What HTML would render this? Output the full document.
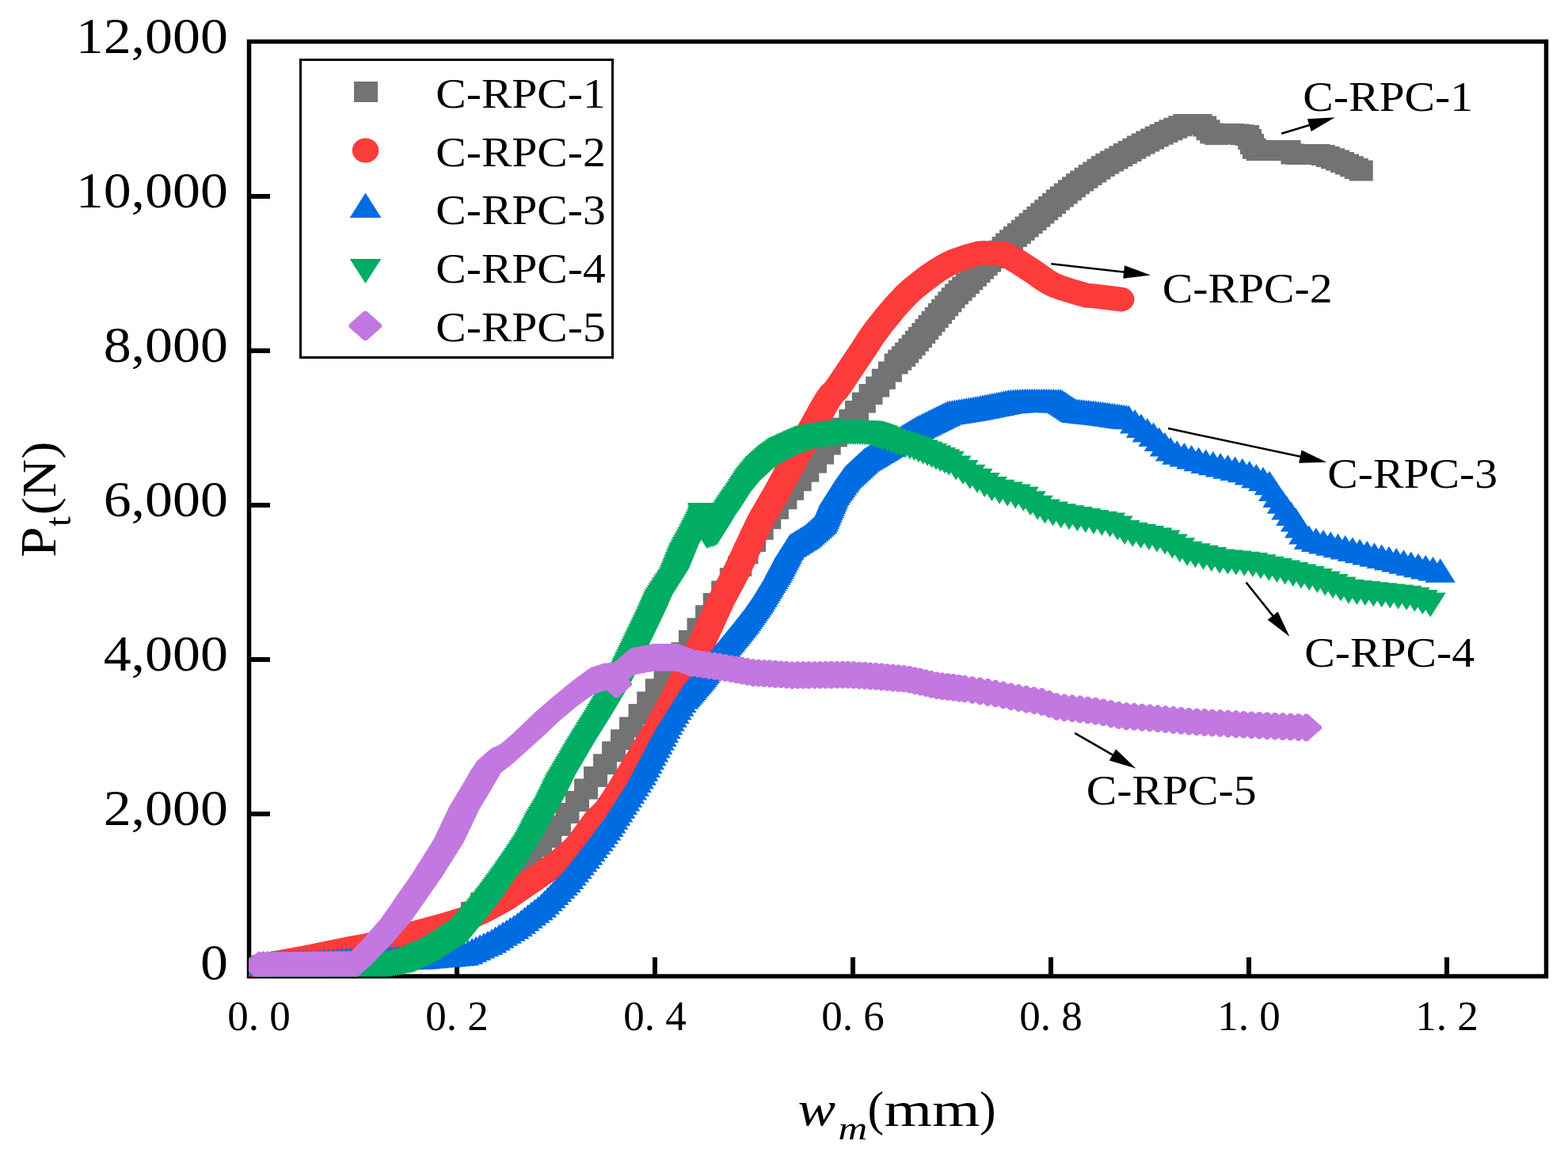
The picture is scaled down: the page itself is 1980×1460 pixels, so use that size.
<!DOCTYPE html><html><head><meta charset="utf-8"><style>html,body{margin:0;padding:0;background:#fff}svg{display:block}</style></head><body><svg xmlns="http://www.w3.org/2000/svg" width="1980" height="1460" viewBox="0 0 1980 1460">
<defs><clipPath id="pc"><rect x="314" y="52.5" width="1639" height="1181"/></clipPath></defs>
<rect width="1980" height="1460" fill="#fff"/>
<rect x="314.5" y="52.5" width="1638" height="1180.5" fill="none" stroke="#000" stroke-width="5.5"/>
<line x1="314" y1="1223.0" x2="341" y2="1223.0" stroke="#000" stroke-width="6"/>
<line x1="314" y1="1028.0" x2="341" y2="1028.0" stroke="#000" stroke-width="6"/>
<line x1="314" y1="833.0" x2="341" y2="833.0" stroke="#000" stroke-width="6"/>
<line x1="314" y1="638.0" x2="341" y2="638.0" stroke="#000" stroke-width="6"/>
<line x1="314" y1="443.0" x2="341" y2="443.0" stroke="#000" stroke-width="6"/>
<line x1="314" y1="248.0" x2="341" y2="248.0" stroke="#000" stroke-width="6"/>
<line x1="577.0" y1="1233" x2="577.0" y2="1209" stroke="#000" stroke-width="6"/>
<line x1="827.0" y1="1233" x2="827.0" y2="1209" stroke="#000" stroke-width="6"/>
<line x1="1077.0" y1="1233" x2="1077.0" y2="1209" stroke="#000" stroke-width="6"/>
<line x1="1327.0" y1="1233" x2="1327.0" y2="1209" stroke="#000" stroke-width="6"/>
<line x1="1577.0" y1="1233" x2="1577.0" y2="1209" stroke="#000" stroke-width="6"/>
<line x1="1827.0" y1="1233" x2="1827.0" y2="1209" stroke="#000" stroke-width="6"/>
<g clip-path="url(#pc)">
<path fill="#737373" d="M437.3 1205.0 312.0 1211.0 312.0 1237.0 342.0 1237.0 464.9 1231.0 464.9 1230.6 467.3 1230.6 467.3 1230.2 469.8 1230.2 469.8 1229.9 472.3 1229.9 472.3 1229.5 474.8 1229.5 474.8 1229.1 477.3 1229.1 477.3 1228.7 479.7 1228.7 479.7 1228.3 482.2 1228.3 482.2 1227.9 484.7 1227.9 484.7 1227.5 487.2 1227.5 487.2 1227.1 489.7 1227.1 489.7 1226.7 492.1 1226.7 492.1 1226.3 494.6 1226.3 494.6 1226.0 497.1 1226.0 497.1 1225.6 499.6 1225.6 499.6 1225.2 502.1 1225.2 502.1 1224.8 504.5 1224.8 504.5 1224.4 507.0 1224.4 507.0 1224.0 509.5 1224.0 509.5 1223.6 512.0 1223.6 512.0 1223.2 514.5 1223.2 514.5 1222.8 516.9 1222.8 516.9 1222.4 519.4 1222.4 519.4 1222.1 521.9 1222.1 521.9 1221.7 524.4 1221.7 524.4 1221.3 526.9 1221.3 526.9 1220.9 529.3 1220.9 529.3 1220.5 531.8 1220.5 531.8 1220.1 534.3 1220.1 534.3 1219.3 536.7 1219.3 536.7 1218.3 539.0 1218.3 539.0 1217.3 541.3 1217.3 541.3 1216.3 543.6 1216.3 543.6 1215.3 545.9 1215.3 545.9 1214.3 548.2 1214.3 548.2 1213.4 550.5 1213.4 550.5 1212.4 552.8 1212.4 552.8 1211.4 555.1 1211.4 555.1 1210.4 557.4 1210.4 557.4 1209.4 559.7 1209.4 559.7 1208.4 562.0 1208.4 562.0 1207.4 564.4 1207.4 564.4 1206.4 566.7 1206.4 566.7 1205.4 569.0 1205.4 569.0 1204.0 571.0 1204.0 571.0 1202.3 572.8 1202.3 572.8 1200.6 574.6 1200.6 574.6 1198.9 576.5 1198.9 576.5 1197.1 578.3 1197.1 578.3 1195.4 580.1 1195.4 580.1 1193.7 581.9 1193.7 581.9 1191.9 583.7 1191.9 583.7 1190.2 585.5 1190.2 585.5 1188.5 587.4 1188.5 587.4 1186.7 589.2 1186.7 589.2 1185.0 591.0 1185.0 591.0 1165.0 612.0 1165.0 612.0 1153.2 624.2 1153.2 624.2 1141.4 636.3 1141.4 636.3 1129.7 648.5 1129.7 648.5 1117.9 660.6 1117.9 660.6 1106.1 672.8 1106.1 672.8 1094.4 685.0 1094.4 685.0 1082.6 697.1 1082.6 697.1 1070.8 709.3 1070.8 709.3 1055.7 720.9 1055.7 720.9 1040.0 731.4 1040.0 731.4 1025.0 744.0 1025.0 744.0 1009.5 755.0 1009.5 755.0 994.0 767.0 994.0 767.0 978.2 779.0 978.2 779.0 962.3 790.0 962.3 790.0 947.3 801.0 947.3 801.0 931.5 812.0 931.5 812.0 914.9 823.5 914.9 823.5 899.6 834.2 899.6 834.2 883.3 844.8 883.3 844.8 868.0 855.5 868.0 855.5 852.5 866.5 852.5 866.5 837.2 877.4 837.2 877.4 821.9 887.0 821.9 887.0 806.6 897.5 806.6 897.5 790.2 908.1 790.2 908.1 774.9 917.7 774.9 917.7 759.6 928.2 759.6 928.2 743.3 938.8 743.3 938.8 727.9 949.3 727.9 949.3 712.3 957.5 712.3 957.5 697.0 967.1 697.0 967.1 681.7 976.7 681.7 976.7 668.2 986.3 668.2 986.3 655.8 995.9 655.8 995.9 643.3 1006.4 643.3 1006.4 631.8 1015.1 631.8 1015.1 620.3 1024.7 620.3 1024.7 608.8 1034.3 608.8 1034.3 597.5 1044.0 597.5 1044.0 586.5 1053.1 586.5 1053.1 574.5 1061.7 574.5 1061.7 564.4 1069.9 564.4 1069.9 553.5 1080.2 553.5 1080.2 543.0 1089.3 543.0 1089.3 532.0 1097.0 532.0 1097.0 521.6 1105.8 521.6 1105.8 511.0 1114.5 511.0 1114.5 501.5 1123.2 501.5 1123.2 491.8 1130.8 491.8 1130.8 482.5 1138.9 482.5 1138.9 472.4 1146.6 472.4 1146.6 467.8 1151.2 467.8 1151.2 463.2 1156.0 463.0 1156.0 458.5 1160.1 458.5 1160.1 453.6 1164.4 453.6 1164.4 448.8 1168.7 448.8 1168.7 443.8 1172.9 443.8 1172.9 438.9 1177.0 438.9 1177.0 433.9 1181.2 433.9 1181.2 429.0 1185.3 429.0 1185.3 424.0 1189.5 424.0 1189.5 419.0 1193.6 419.0 1193.6 414.1 1197.8 414.1 1197.8 409.1 1202.0 409.1 1202.0 404.1 1206.1 404.1 1206.1 399.2 1210.3 399.2 1210.3 394.2 1214.4 394.2 1214.4 389.3 1218.6 389.3 1218.6 384.6 1223.0 384.6 1223.0 380.0 1227.6 380.0 1227.6 375.4 1232.2 375.4 1232.2 370.9 1236.8 370.9 1236.8 366.3 1241.3 366.3 1241.3 361.7 1245.9 361.7 1245.9 357.1 1250.5 357.1 1250.5 352.6 1255.1 352.6 1255.1 348.0 1259.7 348.0 1259.7 343.4 1264.2 343.4 1264.2 338.9 1268.8 338.9 1268.8 334.3 1273.4 334.3 1273.4 329.7 1278.0 329.7 1278.0 325.1 1282.6 325.1 1282.6 320.6 1287.1 320.6 1287.1 316.3 1292.0 316.3 1292.0 312.1 1296.9 312.1 1296.9 307.9 1301.8 307.9 1301.8 303.7 1306.7 303.7 1306.7 299.4 1311.6 299.4 1311.6 295.2 1316.6 295.2 1316.6 291.0 1321.5 291.0 1321.5 286.8 1326.4 286.8 1326.4 282.5 1331.3 282.5 1331.3 278.3 1336.2 278.3 1336.2 274.1 1341.1 274.1 1341.1 269.9 1346.0 269.9 1346.0 265.6 1350.9 265.6 1350.9 261.4 1355.8 261.4 1355.8 257.4 1360.8 257.4 1360.8 253.3 1365.9 253.3 1365.9 249.3 1370.9 249.3 1370.9 245.3 1376.0 245.3 1376.0 241.5 1381.3 241.5 1381.3 237.8 1386.5 237.8 1386.5 234.0 1391.8 234.0 1391.8 230.4 1397.2 230.4 1397.2 226.7 1402.5 226.7 1402.5 223.0 1407.8 223.0 1407.8 219.7 1413.3 219.7 1413.3 216.5 1419.0 216.5 1419.0 213.4 1424.6 213.4 1424.6 210.2 1430.3 210.2 1430.3 207.0 1435.9 207.0 1435.9 203.9 1441.6 203.9 1441.6 200.7 1447.2 200.7 1447.2 197.5 1452.8 197.5 1452.8 194.5 1458.6 194.5 1458.6 191.5 1464.3 191.5 1464.3 188.5 1470.1 188.5 1470.1 185.6 1475.8 185.6 1475.8 182.8 1481.7 182.8 1481.7 180.1 1487.5 180.1 1487.5 177.3 1493.4 177.3 1493.4 174.7 1499.3 174.7 1499.3 172.3 1505.3 172.3 1505.3 170.0 1506.2 170.0 1506.2 172.4 1510.5 172.4 1510.5 177.2 1515.3 177.2 1515.3 181.4 1521.3 181.4 1521.3 182.9 1551.3 182.9 1551.3 182.6 1553.6 182.6 1553.6 183.2 1560.1 183.2 1560.1 183.9 1563.2 183.9 1563.2 189.0 1566.0 189.0 1566.0 194.9 1568.9 194.9 1568.9 200.7 1573.9 200.7 1573.9 203.0 1617.4 203.0 1617.4 207.4 1623.6 207.4 1623.6 208.0 1655.8 208.0 1655.8 209.0 1661.9 209.0 1661.9 211.1 1668.0 211.1 1668.0 213.3 1674.1 213.3 1674.1 215.5 1680.0 215.5 1680.0 218.0 1686.0 218.0 1686.0 220.6 1691.9 220.6 1691.9 223.2 1697.8 223.2 1697.8 225.9 1703.7 225.9 1703.7 228.5 1733.7 228.5 1733.7 202.5 1727.8 202.5 1727.8 199.9 1721.9 199.9 1721.9 197.2 1716.0 197.2 1716.0 194.6 1710.0 194.6 1710.0 192.0 1704.1 192.0 1704.1 189.5 1698.0 189.5 1698.0 187.3 1691.9 187.3 1691.9 185.1 1685.8 185.1 1685.8 183.0 1679.5 183.0 1679.5 182.0 1647.4 182.0 1647.4 181.4 1642.7 181.4 1642.7 177.0 1598.9 177.0 1598.9 174.7 1596.0 174.7 1596.0 168.9 1593.2 168.9 1593.2 163.0 1590.1 163.0 1590.1 157.9 1583.6 157.9 1583.6 157.2 1577.2 157.2 1577.2 156.5 1570.7 156.5 1570.7 156.1 1545.3 156.1 1545.3 155.4 1540.5 155.4 1540.5 151.2 1536.2 151.2 1536.2 146.4 1530.7 146.4 1530.7 144.0 1481.3 144.0 1481.3 146.3 1475.3 146.3 1475.3 148.7 1469.3 148.7 1469.3 151.3 1463.4 151.3 1463.4 154.1 1457.5 154.1 1457.5 156.8 1451.7 156.8 1451.7 159.6 1445.8 159.6 1445.8 162.5 1440.1 162.5 1440.1 165.5 1434.3 165.5 1434.3 168.5 1428.6 168.5 1428.6 171.5 1422.8 171.5 1422.8 174.7 1417.2 174.7 1417.2 177.9 1411.6 177.9 1411.6 181.0 1405.9 181.0 1405.9 184.2 1400.3 184.2 1400.3 187.4 1394.6 187.4 1394.6 190.5 1389.0 190.5 1389.0 193.7 1383.3 193.7 1383.3 197.0 1377.8 197.0 1377.8 200.7 1372.5 200.7 1372.5 204.4 1367.2 204.4 1367.2 208.0 1361.8 208.0 1361.8 211.8 1356.5 211.8 1356.5 215.5 1351.3 215.5 1351.3 219.3 1346.0 219.3 1346.0 223.3 1340.9 223.3 1340.9 227.3 1335.9 227.3 1335.9 231.4 1330.8 231.4 1330.8 235.4 1325.8 235.4 1325.8 239.6 1320.9 239.6 1320.9 243.9 1316.0 243.9 1316.0 248.1 1311.1 248.1 1311.1 252.3 1306.2 252.3 1306.2 256.5 1301.3 256.5 1301.3 260.8 1296.4 260.8 1296.4 265.0 1291.5 265.0 1291.5 269.2 1286.6 269.2 1286.6 273.4 1281.6 273.4 1281.6 277.7 1276.7 277.7 1276.7 281.9 1271.8 281.9 1271.8 286.1 1266.9 286.1 1266.9 290.3 1262.0 290.3 1262.0 294.6 1257.1 294.6 1257.1 299.1 1252.6 299.1 1252.6 303.7 1248.0 303.7 1248.0 308.3 1243.4 308.3 1243.4 312.9 1238.8 312.9 1238.8 317.4 1234.2 317.4 1234.2 322.0 1229.7 322.0 1229.7 326.6 1225.1 326.6 1225.1 331.1 1220.5 331.1 1220.5 335.7 1215.9 335.7 1215.9 340.3 1211.3 340.3 1211.3 344.9 1206.8 344.9 1206.8 349.4 1202.2 349.4 1202.2 354.0 1197.6 354.0 1197.6 358.6 1193.0 358.6 1193.0 363.3 1188.6 363.3 1188.6 368.2 1184.4 368.2 1184.4 373.2 1180.3 373.2 1180.3 378.1 1176.1 378.1 1176.1 383.1 1172.0 383.1 1172.0 388.1 1167.8 388.1 1167.8 393.0 1163.6 393.0 1163.6 398.0 1159.5 398.0 1159.5 403.0 1155.3 403.0 1155.3 407.9 1151.2 407.9 1151.2 412.9 1147.0 412.9 1147.0 417.8 1142.9 417.8 1142.9 422.8 1138.7 422.8 1138.7 427.6 1134.4 427.6 1134.4 432.5 1130.1 432.5 1130.1 437.0 1125.8 437.2 1125.8 441.8 1121.2 441.8 1121.2 446.4 1116.6 446.4 1116.6 456.5 1108.9 456.5 1108.9 465.8 1100.8 465.8 1100.8 475.5 1093.2 475.5 1093.2 485.0 1084.5 485.0 1084.5 495.6 1075.8 495.6 1075.8 506.0 1067.0 506.0 1067.0 517.0 1059.3 517.0 1059.3 527.5 1050.2 527.5 1050.2 538.4 1039.9 538.4 1039.9 548.5 1031.7 548.5 1031.7 560.5 1023.1 560.5 1023.1 571.5 1014.0 571.5 1014.0 582.8 1004.3 582.8 1004.3 594.3 994.7 594.3 994.7 605.8 985.1 605.8 985.1 617.3 976.4 617.3 976.4 629.8 965.9 629.8 965.9 642.2 956.3 642.2 956.3 655.7 946.7 655.7 946.7 671.0 937.1 671.0 937.1 686.3 927.5 686.3 927.5 701.9 919.3 701.9 919.3 717.3 908.8 717.3 908.8 733.6 898.2 733.6 898.2 748.9 887.7 748.9 887.7 764.2 878.1 764.2 878.1 780.6 867.5 780.6 867.5 795.9 857.0 795.9 857.0 811.2 847.4 811.2 847.4 826.5 836.5 826.5 836.5 842.0 825.5 842.0 825.5 857.3 814.8 857.3 814.8 873.6 804.2 873.6 804.2 888.9 793.5 888.9 793.5 905.5 782.0 905.5 782.0 921.3 771.0 921.3 771.0 936.3 760.0 936.3 760.0 952.2 749.0 952.2 749.0 968.0 737.0 968.0 737.0 983.5 725.0 983.5 725.0 999.0 714.0 999.0 714.0 1014.0 701.4 1014.0 701.4 1029.7 690.9 1029.7 690.9 1044.8 679.3 1044.8 679.3 1056.6 667.1 1056.6 667.1 1068.4 655.0 1068.4 655.0 1080.1 642.8 1080.1 642.8 1091.9 630.6 1091.9 630.6 1103.7 618.5 1103.7 618.5 1115.4 606.3 1115.4 606.3 1127.2 594.2 1127.2 594.2 1139.0 582.0 1139.0 582.0 1159.0 561.0 1159.0 561.0 1160.7 559.2 1160.7 559.2 1162.5 557.4 1162.5 557.4 1164.2 555.5 1164.2 555.5 1165.9 553.7 1165.9 553.7 1167.7 551.9 1167.7 551.9 1169.4 550.1 1169.4 550.1 1171.1 548.3 1171.1 548.3 1172.9 546.5 1172.9 546.5 1174.6 544.6 1174.6 544.6 1176.3 542.8 1176.3 542.8 1178.0 541.0 1178.0 541.0 1179.4 539.0 1179.4 539.0 1180.4 536.7 1180.4 536.7 1181.4 534.4 1181.4 534.4 1182.4 532.0 1182.4 532.0 1183.4 529.7 1183.4 529.7 1184.4 527.4 1184.4 527.4 1185.4 525.1 1185.4 525.1 1186.4 522.8 1186.4 522.8 1187.4 520.5 1187.4 520.5 1188.3 518.2 1188.3 518.2 1189.3 515.9 1189.3 515.9 1190.3 513.6 1190.3 513.6 1191.3 511.3 1191.3 511.3 1192.3 509.0 1192.3 509.0 1193.3 506.7 1193.3 506.7 1194.1 501.8 1194.5 501.8 1194.9 499.3 1194.9 499.3 1195.3 496.9 1195.3 496.9 1195.7 494.4 1195.7 494.4 1196.1 491.9 1196.1 491.9 1196.4 489.4 1196.4 489.4 1196.8 486.9 1196.8 486.9 1197.2 484.5 1197.2 484.5 1197.6 482.0 1197.6 482.0 1198.0 479.5 1198.0 479.5 1198.4 477.0 1198.4 477.0 1198.8 474.5 1198.8 474.5 1199.2 472.1 1199.2 472.1 1199.6 469.6 1199.6 469.6 1200.0 467.1 1200.0 467.1 1200.3 464.6 1200.3 464.6 1200.7 462.1 1200.7 462.1 1201.1 459.7 1201.1 459.7 1201.5 457.2 1201.5 457.2 1201.9 454.7 1201.9 454.7 1202.3 452.2 1202.3 452.2 1202.7 449.7 1202.7 449.7 1203.1 447.3 1203.1 447.3 1203.5 444.8 1203.5 444.8 1203.9 442.3 1203.9 442.3 1204.2 439.8 1204.2 439.8 1204.6 437.3 1204.6Z"/>
<path fill="#fc3b3b" d="M557.7 1153.3 479.8 1174.2 457.2 1179.8 441.0 1182.6 380.9 1194.7 323.2 1205.2 319.5 1206.3 316.2 1208.2 313.4 1210.6 311.3 1213.6 310.0 1216.9 309.6 1220.3 310.0 1223.7 311.3 1227.0 313.4 1230.0 316.2 1232.4 319.5 1234.3 323.2 1235.4 327.1 1235.8 331.0 1235.4 392.9 1224.0 447.2 1212.9 469.4 1208.9 495.6 1202.3 559.3 1185.1 588.9 1176.4 603.0 1171.2 616.7 1165.1 632.6 1156.8 648.9 1147.5 710.8 1105.1 727.2 1092.0 741.0 1079.5 748.8 1070.4 765.8 1046.6 768.9 1043.1 779.0 1033.3 788.2 1020.7 797.9 1005.5 829.1 954.3 852.0 915.6 864.8 891.8 896.1 830.4 905.2 811.4 926.0 765.9 946.0 728.0 974.8 666.7 997.7 626.5 1042.7 543.5 1058.7 515.2 1064.0 507.2 1069.0 502.5 1074.7 494.8 1106.3 447.4 1114.6 434.4 1126.0 418.9 1142.8 398.5 1156.6 383.4 1165.8 374.9 1177.3 365.9 1193.6 354.0 1206.9 346.3 1213.9 343.1 1221.8 340.2 1234.3 336.4 1241.5 334.8 1251.7 336.0 1261.3 335.5 1263.1 336.2 1276.2 343.7 1295.8 356.4 1309.1 366.0 1320.2 372.4 1325.7 374.9 1336.9 379.0 1355.0 384.6 1369.4 388.6 1378.1 389.1 1415.0 393.6 1418.9 393.2 1422.6 392.1 1425.9 390.2 1428.7 387.8 1430.8 384.8 1432.1 381.5 1432.5 378.1 1432.1 374.7 1430.8 371.4 1428.7 368.4 1425.9 366.0 1422.6 364.1 1418.9 363.0 1383.2 358.6 1375.4 358.1 1355.2 352.1 1344.5 348.5 1337.3 345.5 1331.5 342.3 1313.8 329.8 1293.6 316.8 1282.5 310.4 1277.1 307.8 1270.5 305.7 1260.7 304.6 1253.1 305.1 1242.8 303.9 1232.9 304.8 1214.8 309.7 1197.8 315.7 1187.0 320.9 1173.4 328.9 1158.7 339.3 1139.9 354.2 1130.6 362.9 1118.4 376.1 1104.9 392.1 1093.7 406.2 1084.5 418.9 1076.3 431.9 1044.8 479.1 1042.2 482.8 1037.3 487.3 1035.4 489.6 1029.9 497.5 1025.3 505.2 1004.9 541.9 967.1 611.8 948.3 644.3 942.6 654.8 913.7 716.4 895.0 751.7 866.5 813.4 828.5 887.8 815.6 911.0 797.3 941.7 764.5 995.4 758.2 1005.1 752.3 1013.5 739.0 1026.7 718.5 1055.0 713.2 1060.7 707.7 1065.8 696.7 1075.0 685.4 1083.7 628.9 1122.3 617.5 1128.9 602.2 1137.0 592.0 1141.7 581.5 1145.9Z"/>
<path fill="#006ce2" d="M635.1 1164.1 631.8 1169.3 630.4 1167.0 627.1 1172.2 625.7 1170.0 622.4 1175.1 621.0 1172.9 617.8 1178.0 616.1 1175.4 612.8 1180.5 611.1 1177.7 607.9 1182.9 606.1 1180.1 602.9 1185.2 601.1 1182.4 597.9 1187.6 596.1 1184.8 592.9 1190.0 591.1 1187.2 588.0 1192.2 586.0 1189.0 583.1 1193.6 580.5 1189.5 577.6 1194.1 575.0 1189.9 572.1 1194.5 569.5 1190.4 566.6 1195.0 564.0 1190.9 561.1 1195.5 558.5 1191.3 555.6 1195.9 553.0 1191.8 550.1 1196.4 547.5 1192.3 544.6 1196.9 542.0 1192.7 539.1 1197.3 536.5 1193.2 533.6 1197.8 531.0 1193.7 528.2 1198.1 525.5 1193.9 522.7 1198.3 520.0 1194.0 517.2 1198.5 514.5 1194.2 511.7 1198.6 509.0 1194.3 506.1 1198.8 503.4 1194.5 500.6 1198.9 497.9 1194.6 495.1 1199.1 492.4 1194.8 489.6 1199.2 486.9 1194.9 484.1 1199.4 481.4 1195.1 478.6 1199.5 475.9 1195.2 473.0 1199.7 470.3 1195.4 467.5 1199.8 464.8 1195.5 462.0 1200.0 459.3 1195.7 456.5 1200.2 453.8 1195.8 451.0 1200.3 448.3 1196.1 445.4 1200.6 442.8 1196.5 439.9 1201.0 437.3 1196.8 434.4 1201.4 431.8 1197.2 428.9 1201.8 426.3 1197.6 423.4 1202.2 420.7 1198.0 417.9 1202.6 415.2 1198.4 412.4 1202.9 409.7 1198.8 406.9 1203.3 404.2 1199.2 401.4 1203.7 398.7 1199.5 395.9 1203.9 393.2 1199.6 390.4 1204.1 387.7 1199.7 384.9 1204.2 382.2 1199.9 379.4 1204.3 376.7 1200.0 373.9 1204.4 371.1 1200.1 368.3 1204.6 365.6 1200.3 362.8 1204.7 360.1 1200.4 357.3 1204.8 354.6 1200.5 351.8 1205.0 349.1 1200.6 346.3 1205.1 343.6 1200.8 340.8 1205.2 338.0 1200.9 335.2 1205.3 332.5 1201.0 329.7 1205.5 327.0 1201.2 307.8 1231.7 346.2 1231.7 417.9 1230.0 417.7 1229.7 428.9 1229.3 428.7 1228.9 434.4 1228.9 434.2 1228.5 439.9 1228.5 439.7 1228.1 445.5 1228.1 445.2 1227.7 451.0 1227.7 450.7 1227.3 456.5 1227.3 456.2 1227.0 462.0 1227.0 461.7 1226.6 550.2 1224.2 549.9 1223.7 555.7 1223.7 555.4 1223.2 561.2 1223.2 560.9 1222.8 566.7 1222.8 566.4 1222.3 572.2 1222.3 571.9 1221.8 583.2 1221.4 582.9 1220.9 588.7 1220.9 588.4 1220.4 594.2 1220.4 593.9 1220.0 599.7 1220.0 599.4 1219.5 605.2 1219.5 604.1 1217.7 610.3 1217.7 608.9 1215.3 615.3 1215.3 613.8 1212.9 620.3 1212.9 618.8 1210.6 625.3 1210.6 623.8 1208.2 630.3 1208.2 628.8 1205.9 635.3 1205.9 633.7 1203.4 640.2 1203.4 638.4 1200.5 644.9 1200.5 643.1 1197.5 649.6 1197.5 647.7 1194.6 654.3 1194.6 652.4 1191.7 659.0 1191.7 657.1 1188.8 663.6 1188.8 661.8 1185.9 668.3 1185.9 666.4 1182.8 672.9 1182.8 670.7 1179.4 677.2 1179.4 675.0 1175.9 681.5 1175.9 679.4 1172.5 685.9 1172.5 683.7 1169.1 690.2 1169.1 688.0 1165.7 694.5 1165.7 692.4 1162.2 698.8 1162.2 696.6 1158.7 703.1 1158.7 700.6 1154.8 707.0 1154.8 704.5 1150.8 710.8 1150.8 708.3 1146.9 714.7 1146.9 712.2 1143.0 718.5 1143.0 716.1 1139.0 722.4 1139.0 719.9 1135.1 726.3 1135.1 723.8 1131.1 730.1 1131.1 727.6 1127.2 734.0 1127.2 731.3 1122.9 737.4 1122.9 734.7 1118.5 740.9 1118.5 738.1 1114.2 744.3 1114.2 741.6 1109.9 747.7 1109.9 745.0 1105.6 751.1 1105.6 748.4 1101.2 754.6 1101.2 751.8 1096.9 757.9 1096.9 755.2 1092.5 761.3 1092.5 758.5 1088.1 764.6 1088.1 761.8 1083.7 767.9 1083.7 765.1 1079.3 771.2 1079.3 768.5 1074.9 774.6 1074.9 771.8 1070.5 777.9 1070.5 775.1 1066.1 781.2 1066.1 778.4 1061.6 784.5 1061.6 781.7 1057.1 787.6 1057.1 784.7 1052.4 790.6 1052.4 787.7 1047.8 793.5 1047.8 790.6 1043.1 796.5 1043.1 793.6 1038.4 799.4 1038.4 796.5 1033.8 802.4 1033.8 799.5 1029.1 805.3 1029.1 802.4 1024.4 808.3 1024.4 805.4 1019.8 811.3 1019.8 808.3 1015.1 814.2 1015.1 811.3 1010.4 817.2 1010.4 814.2 1005.8 820.1 1005.8 817.1 1001.1 823.0 1001.1 820.0 996.4 825.9 996.4 823.0 991.7 828.8 991.7 825.8 986.8 831.4 986.8 828.4 982.0 834.0 982.0 830.9 977.1 836.6 977.1 833.5 972.2 839.1 972.2 836.1 967.3 841.7 967.3 838.6 962.4 844.3 962.4 841.2 957.6 846.9 957.6 843.8 952.7 849.4 952.7 846.4 947.8 852.0 947.8 848.9 942.9 854.6 942.9 851.5 938.0 857.1 938.0 854.1 933.1 859.7 933.1 856.6 928.3 862.3 928.3 859.2 923.4 864.9 923.4 861.9 918.7 867.8 918.7 864.8 914.0 870.7 914.0 867.8 909.3 873.7 909.3 870.7 904.7 876.6 904.7 873.7 900.0 879.6 900.0 876.6 895.4 882.5 895.4 881.1 893.1 884.4 893.1 883.0 890.8 886.4 890.8 885.0 888.5 888.3 888.5 886.9 886.2 890.3 886.2 888.9 883.9 892.2 883.9 890.8 881.6 894.2 881.6 892.8 879.3 896.1 879.3 894.7 877.1 898.1 877.1 896.7 874.8 900.0 874.8 898.6 872.5 902.0 872.5 900.5 870.1 903.8 870.1 902.3 867.7 905.6 867.7 904.1 865.3 907.4 865.3 905.9 862.9 909.2 862.9 907.6 860.4 910.9 860.4 909.4 858.0 912.7 858.0 911.2 855.6 914.5 855.6 913.0 853.2 916.3 853.2 914.8 850.7 918.1 850.7 916.6 848.4 920.0 848.4 918.5 846.1 921.9 846.1 920.4 843.8 923.8 843.8 922.4 841.5 925.7 841.5 924.3 839.2 927.6 839.2 926.2 836.9 929.6 836.9 928.1 834.6 931.5 834.6 930.0 832.2 933.4 832.2 931.9 829.9 935.3 829.9 933.8 827.6 937.2 827.6 935.7 825.3 939.1 825.3 937.6 822.9 941.0 822.9 939.5 820.6 942.9 820.6 941.4 818.3 944.8 818.3 943.3 815.9 946.7 815.9 945.2 813.6 948.6 813.6 947.1 811.3 950.4 811.3 949.0 808.9 952.3 808.9 950.8 806.5 954.1 806.5 952.7 804.2 956.0 804.2 954.5 801.8 957.9 801.8 956.4 799.4 959.7 799.4 958.2 797.0 961.4 797.0 959.9 794.5 963.1 794.5 961.6 792.0 964.8 792.0 963.3 789.6 966.5 789.6 965.0 787.1 968.2 787.1 966.7 784.6 970.0 784.6 968.4 782.1 971.7 782.1 970.1 779.7 973.4 779.7 971.8 777.2 975.1 777.2 973.5 774.7 976.8 774.7 975.2 772.2 978.4 772.2 976.7 769.6 979.9 769.6 978.3 767.0 981.5 767.0 979.8 764.5 983.0 764.5 981.4 761.9 984.6 761.9 983.0 759.3 986.1 759.3 984.5 756.7 987.7 756.7 986.1 754.2 989.3 754.2 987.6 751.6 990.8 751.6 989.2 749.0 992.4 749.0 990.8 746.5 993.9 746.5 992.3 743.9 995.5 743.9 993.9 741.3 997.0 741.3 995.4 738.8 998.6 738.8 997.0 736.2 1000.2 736.2 998.5 733.6 1001.7 733.6 1000.0 731.0 1003.1 731.0 1001.4 728.3 1004.5 728.3 1002.8 725.6 1005.8 725.6 1004.2 722.9 1007.2 722.9 1005.5 720.3 1008.6 720.3 1006.9 717.6 1010.0 717.6 1008.3 714.9 1011.4 714.9 1009.7 712.3 1012.7 712.3 1011.0 709.6 1014.1 709.6 1012.4 706.9 1015.5 706.9 1014.0 704.5 1017.2 704.5 1016.2 703.0 1019.7 703.0 1018.7 701.4 1022.3 701.4 1021.3 699.8 1024.8 699.8 1023.8 698.2 1027.4 698.2 1026.4 696.6 1029.9 696.6 1028.9 695.0 1032.5 695.0 1031.5 693.4 1035.0 693.4 1034.0 691.8 1037.5 691.8 1036.3 689.8 1039.8 689.8 1038.5 687.8 1042.0 687.8 1040.7 685.8 1044.2 685.8 1043.0 683.8 1046.5 683.8 1045.2 681.8 1048.7 681.8 1047.5 679.8 1051.0 679.8 1049.7 677.8 1053.2 677.8 1051.9 675.7 1055.4 675.7 1054.2 673.7 1057.7 673.7 1056.0 671.1 1059.0 671.1 1057.3 668.3 1060.2 668.3 1058.4 665.6 1061.3 665.6 1059.6 662.8 1062.5 662.8 1060.8 660.0 1063.7 660.0 1061.9 657.3 1064.8 657.3 1063.1 654.5 1066.0 654.5 1064.3 651.7 1067.2 651.7 1065.4 649.0 1068.3 649.0 1066.6 646.2 1069.5 646.2 1067.8 643.4 1070.7 643.4 1068.9 640.6 1071.9 640.6 1070.2 638.0 1073.3 638.0 1071.8 635.6 1075.0 635.6 1073.5 633.1 1076.8 633.1 1075.2 630.7 1078.5 630.7 1077.0 628.2 1080.2 628.2 1078.7 625.8 1082.0 625.8 1080.4 623.3 1083.7 623.3 1082.1 620.9 1085.4 620.9 1083.9 618.4 1087.2 618.4 1085.8 616.3 1089.3 616.3 1088.0 614.2 1091.5 614.2 1090.2 612.2 1093.7 612.2 1092.4 610.2 1095.9 610.2 1094.6 608.1 1098.1 608.1 1096.8 606.1 1100.3 606.1 1099.0 604.0 1102.5 604.0 1101.2 602.0 1104.7 602.0 1103.4 599.9 1106.9 599.9 1105.6 597.9 1109.1 597.9 1107.8 595.8 1111.3 595.8 1110.3 594.3 1113.9 594.3 1112.9 592.8 1116.4 592.8 1115.5 591.2 1119.0 591.2 1118.1 589.7 1121.6 589.7 1120.7 588.2 1124.2 588.2 1123.2 586.6 1126.8 586.6 1125.8 585.1 1129.4 585.1 1128.4 583.6 1132.0 583.6 1131.0 582.0 1134.5 582.0 1133.5 580.5 1137.1 580.5 1136.1 578.8 1139.6 578.8 1138.6 577.2 1142.2 577.2 1141.1 575.6 1144.7 575.6 1143.7 574.0 1147.2 574.0 1146.2 572.4 1149.8 572.4 1148.7 570.8 1152.3 570.8 1151.3 569.2 1154.8 569.2 1153.9 567.6 1157.4 567.6 1156.4 566.1 1160.0 566.1 1159.0 564.5 1162.5 564.5 1161.6 562.9 1165.1 562.9 1164.1 561.4 1167.7 561.4 1166.7 559.8 1170.2 559.8 1169.3 558.3 1172.8 558.3 1171.8 556.7 1175.4 556.7 1174.5 555.3 1178.0 555.3 1177.2 553.9 1180.7 553.9 1179.9 552.6 1183.4 552.6 1182.6 551.3 1186.1 551.3 1185.2 549.9 1188.8 549.9 1187.9 548.6 1191.5 548.6 1190.6 547.3 1194.2 547.3 1193.3 545.9 1196.9 545.9 1196.0 544.6 1199.6 544.6 1198.7 543.3 1202.2 543.3 1201.4 541.9 1204.9 541.9 1204.1 540.6 1207.6 540.6 1206.8 539.3 1210.3 539.3 1209.5 537.9 1213.0 537.9 1212.2 536.6 1215.7 536.6 1215.4 536.1 1218.7 536.1 1218.4 535.6 1221.6 535.6 1221.3 535.1 1224.6 535.1 1224.3 534.7 1227.6 534.7 1227.3 534.2 1230.5 534.2 1230.2 533.7 1233.5 533.7 1233.2 533.2 1236.5 533.2 1236.1 532.7 1239.4 532.7 1239.1 532.2 1242.4 532.2 1242.1 531.7 1245.3 531.7 1245.0 531.2 1248.3 531.2 1248.0 530.7 1251.3 530.7 1250.9 530.2 1254.2 530.2 1253.9 529.6 1257.2 529.6 1256.8 529.0 1260.1 529.0 1259.8 528.4 1263.1 528.4 1262.7 527.8 1266.0 527.8 1265.6 527.2 1269.0 527.2 1268.6 526.6 1271.9 526.6 1271.5 526.0 1274.9 526.0 1274.5 525.5 1277.8 525.5 1277.4 524.9 1280.7 524.9 1280.4 524.3 1283.7 524.3 1283.3 523.7 1286.6 523.7 1286.3 523.1 1289.6 523.1 1289.2 522.5 1307.4 521.3 1323.6 521.7 1322.8 523.1 1326.3 523.1 1325.3 524.7 1328.8 524.7 1327.8 526.4 1331.3 526.4 1330.3 528.1 1333.8 528.1 1332.8 529.7 1336.3 529.7 1335.3 531.4 1338.8 531.4 1337.8 533.1 1341.1 533.1 1340.5 533.9 1343.7 533.9 1343.5 534.3 1346.7 534.3 1346.5 534.6 1349.7 534.6 1349.5 534.9 1352.7 534.9 1352.5 535.2 1361.7 535.9 1361.5 536.2 1364.6 536.2 1364.4 536.5 1367.6 536.5 1367.4 536.8 1370.6 536.8 1370.4 537.2 1373.6 537.2 1373.4 537.6 1376.6 537.6 1376.4 538.0 1379.6 538.0 1379.3 538.4 1382.6 538.4 1382.3 538.8 1385.6 538.8 1385.3 539.3 1388.5 539.3 1388.3 539.7 1391.5 539.7 1391.2 540.1 1394.5 540.1 1394.2 540.5 1400.4 541.0 1400.2 541.4 1403.4 541.4 1403.1 541.8 1406.4 541.8 1406.1 542.2 1417.3 542.2 1413.9 547.6 1425.2 547.6 1421.8 553.0 1433.0 553.0 1429.6 558.4 1440.8 558.4 1437.4 563.9 1448.5 563.9 1444.5 570.1 1455.6 570.1 1451.7 576.4 1462.8 576.4 1458.8 582.6 1469.8 582.6 1467.1 586.8 1478.0 586.8 1476.2 589.6 1487.0 589.6 1485.3 592.4 1496.1 592.4 1494.4 595.3 1505.2 595.3 1503.5 598.0 1514.1 598.0 1512.7 600.2 1523.3 600.2 1521.9 602.5 1532.6 602.5 1531.2 604.7 1541.8 604.7 1540.4 606.9 1551.1 606.9 1549.6 609.2 1560.6 609.2 1558.5 612.4 1569.7 612.4 1567.2 616.4 1578.3 616.4 1575.8 620.3 1586.7 620.3 1583.7 625.2 1594.0 625.2 1589.0 633.1 1599.3 633.1 1594.4 640.9 1604.7 640.9 1599.7 648.8 1610.2 648.8 1605.3 656.4 1615.8 656.4 1611.1 664.0 1621.6 664.0 1616.8 671.6 1627.0 671.6 1622.1 679.5 1632.2 679.5 1627.1 687.6 1637.8 687.6 1633.7 694.1 1644.5 694.1 1642.7 697.0 1653.4 697.0 1651.9 699.4 1662.6 699.4 1661.1 701.8 1671.8 701.8 1670.3 704.2 1681.0 704.2 1679.5 706.5 1690.1 706.5 1688.7 708.9 1699.3 708.9 1697.9 711.2 1708.6 711.2 1707.1 713.4 1717.8 713.4 1716.3 715.7 1727.0 715.7 1725.6 718.0 1736.2 718.0 1734.8 720.3 1745.5 720.3 1744.0 722.6 1754.6 722.6 1753.3 724.8 1763.9 724.8 1762.5 727.0 1773.1 727.0 1771.8 729.2 1782.4 729.2 1781.0 731.4 1791.6 731.4 1790.3 733.6 1800.9 733.6 1799.5 735.8 1837.9 735.8 1818.7 705.2 1814.8 711.5 1809.5 703.1 1805.5 709.3 1800.2 700.9 1796.3 707.1 1791.0 698.7 1787.0 704.9 1781.7 696.5 1777.8 702.7 1772.5 694.3 1768.5 700.5 1763.2 692.1 1759.3 698.3 1754.0 689.8 1750.1 696.0 1744.8 687.5 1740.9 693.7 1735.5 685.2 1731.7 691.4 1726.3 682.9 1722.4 689.1 1717.1 680.7 1713.2 686.8 1707.9 678.4 1704.0 684.5 1698.7 676.0 1694.8 682.2 1689.5 673.7 1685.6 679.8 1680.3 671.3 1676.4 677.4 1671.1 668.9 1667.2 675.0 1661.9 666.5 1658.3 672.1 1652.9 663.6 1651.7 665.5 1636.0 641.1 1635.5 641.9 1630.3 633.5 1629.8 634.3 1624.5 625.9 1624.2 626.5 1618.9 618.3 1618.7 618.6 1602.9 594.7 1600.5 598.5 1595.0 589.8 1591.9 594.7 1586.4 585.9 1583.3 590.8 1577.7 581.9 1574.3 587.4 1568.8 578.7 1564.9 584.9 1559.6 576.4 1555.7 582.6 1550.4 574.2 1546.5 580.4 1541.1 572.0 1537.2 578.2 1531.9 569.7 1528.0 575.9 1522.7 567.5 1519.0 573.3 1513.6 564.8 1509.9 570.6 1504.5 561.9 1500.8 567.8 1495.4 559.1 1491.7 564.9 1486.3 556.3 1483.5 560.8 1478.0 552.1 1476.4 554.7 1470.9 545.9 1469.3 548.4 1463.7 539.6 1462.1 542.2 1456.6 533.4 1454.4 536.8 1448.8 527.9 1446.6 531.4 1441.0 522.5 1438.7 526.0 1433.1 517.1 1430.9 520.7 1425.3 511.8 1423.9 513.9 1422.3 511.3 1421.0 513.5 1419.4 510.9 1418.0 513.0 1416.4 510.5 1415.0 512.6 1413.4 510.0 1412.1 512.2 1410.4 509.6 1409.1 511.8 1407.5 509.2 1406.1 511.3 1404.5 508.8 1403.1 510.9 1401.5 508.3 1400.2 510.5 1398.5 507.9 1397.2 510.1 1395.6 507.5 1394.2 509.6 1392.6 507.1 1391.2 509.2 1389.6 506.7 1388.2 508.9 1386.6 506.3 1385.2 508.6 1383.6 506.0 1382.2 508.2 1380.7 505.7 1379.3 507.9 1377.7 505.4 1376.3 507.6 1374.7 505.1 1373.3 507.3 1371.7 504.7 1370.3 506.9 1368.7 504.4 1367.3 506.6 1365.7 504.1 1364.3 506.3 1362.7 503.8 1361.3 506.0 1359.7 503.4 1358.6 505.2 1357.0 502.6 1356.2 503.7 1354.5 500.9 1353.7 502.0 1352.0 499.2 1351.2 500.4 1349.5 497.6 1348.7 498.7 1347.0 495.9 1346.2 497.0 1344.5 494.2 1343.7 495.4 1342.0 492.6 1341.1 494.0 1339.4 491.2 1337.9 493.6 1336.4 491.1 1334.9 493.5 1333.3 491.1 1331.9 493.4 1330.3 491.0 1328.9 493.3 1327.3 490.9 1325.9 493.2 1324.3 490.8 1322.9 493.2 1321.3 490.8 1319.8 493.1 1318.3 490.8 1316.8 493.1 1315.3 490.8 1313.8 493.1 1312.3 490.8 1310.8 493.1 1309.3 490.8 1307.8 493.1 1306.3 490.8 1304.8 493.1 1303.3 490.8 1301.8 493.1 1300.3 490.8 1298.8 493.1 1297.3 490.8 1295.8 493.1 1294.3 490.8 1292.8 493.1 1291.3 490.8 1289.7 493.2 1288.3 490.9 1286.7 493.4 1285.3 491.1 1283.7 493.6 1282.3 491.3 1280.7 493.8 1279.3 491.5 1277.7 493.9 1276.3 491.6 1274.7 494.2 1273.3 492.0 1271.7 494.6 1270.4 492.6 1268.7 495.2 1267.4 493.2 1265.8 495.8 1264.5 493.8 1262.8 496.4 1261.5 494.4 1259.9 497.0 1258.6 495.0 1256.9 497.6 1255.7 495.5 1254.0 498.2 1252.7 496.1 1251.0 498.8 1249.8 496.7 1248.1 499.4 1246.8 497.3 1245.2 499.9 1243.9 497.9 1242.2 500.5 1240.9 498.5 1239.3 501.1 1238.0 499.1 1236.3 501.7 1235.0 499.7 1233.4 502.3 1232.1 500.2 1230.4 502.8 1229.1 500.7 1227.5 503.3 1226.1 501.2 1224.5 503.8 1223.2 501.7 1221.5 504.3 1220.2 502.2 1218.6 504.8 1217.3 502.7 1215.6 505.3 1214.3 503.2 1212.7 505.8 1211.3 503.7 1209.7 506.3 1208.4 504.2 1206.7 506.8 1205.4 504.6 1203.8 507.2 1202.4 505.1 1200.8 507.7 1199.5 505.6 1197.8 508.2 1196.5 506.1 1194.8 508.9 1193.8 507.4 1192.0 510.2 1191.1 508.8 1189.4 511.6 1188.4 510.1 1186.7 512.9 1185.7 511.4 1184.0 514.2 1183.0 512.8 1181.3 515.6 1180.4 514.1 1178.6 516.9 1177.7 515.4 1175.9 518.2 1175.0 516.8 1173.2 519.6 1172.3 518.1 1170.5 520.9 1169.6 519.4 1167.8 522.2 1166.9 520.8 1165.1 523.6 1164.2 522.1 1162.4 524.9 1161.5 523.4 1159.7 526.2 1158.8 524.8 1157.0 527.6 1156.2 526.2 1154.4 529.0 1153.6 527.8 1151.8 530.6 1151.0 529.3 1149.3 532.1 1148.5 530.9 1146.7 533.7 1145.9 532.4 1144.1 535.3 1143.3 534.0 1141.6 536.8 1140.8 535.6 1139.0 538.4 1138.2 537.1 1136.4 539.9 1135.6 538.7 1133.9 541.5 1133.1 540.3 1131.3 543.1 1130.6 541.9 1128.8 544.7 1128.0 543.5 1126.2 546.3 1125.5 545.1 1123.7 547.9 1123.0 546.7 1121.2 549.5 1120.4 548.3 1118.7 551.2 1117.9 550.0 1116.1 552.8 1115.3 551.5 1113.6 554.4 1112.8 553.1 1111.0 555.9 1110.2 554.6 1108.4 557.4 1107.6 556.1 1105.8 559.0 1105.0 557.7 1103.2 560.5 1102.4 559.2 1100.6 562.0 1099.8 560.7 1098.1 563.5 1097.2 562.3 1095.5 565.1 1094.7 563.8 1092.9 566.6 1092.1 565.3 1090.4 568.1 1089.9 567.4 1088.2 570.2 1087.7 569.4 1086.0 572.2 1085.5 571.5 1083.8 574.3 1083.3 573.5 1081.6 576.3 1081.1 575.6 1079.3 578.3 1078.9 577.6 1077.1 580.4 1076.7 579.7 1074.9 582.4 1074.5 581.7 1072.7 584.5 1072.3 583.7 1070.5 586.5 1070.1 585.8 1068.4 588.5 1068.0 587.9 1054.1 607.5 1034.9 638.0 1033.5 640.6 1034.0 640.6 1032.3 643.4 1032.9 643.4 1031.1 646.2 1031.7 646.2 1029.9 649.0 1030.5 649.0 1027.8 654.0 1027.3 653.3 1025.5 656.0 1025.0 655.3 1023.3 658.0 1022.8 657.3 1021.0 660.0 1020.6 659.3 1018.8 662.1 1018.3 661.3 1016.5 664.1 1015.8 662.9 1014.1 665.8 1013.3 664.5 1011.5 667.3 1010.7 666.1 1008.9 668.9 1008.2 667.7 1006.4 670.5 1005.6 669.3 1003.8 672.1 1003.1 670.9 1001.3 673.7 1000.5 672.5 998.7 675.3 998.0 674.0 977.1 706.9 977.4 706.9 964.7 731.0 965.0 731.0 950.8 754.2 938.8 771.6 938.7 771.3 931.4 781.0 931.2 780.8 929.6 783.4 929.4 783.1 927.7 785.8 927.5 785.4 925.8 788.1 925.6 787.8 923.9 790.4 923.7 790.1 922.0 792.8 921.8 792.4 920.1 795.1 919.9 794.8 918.2 797.4 918.0 797.1 916.3 799.8 916.1 799.4 914.4 802.1 914.2 801.7 912.5 804.4 912.3 804.1 910.6 806.7 910.4 806.4 908.7 809.1 908.4 808.7 906.8 811.4 906.5 811.0 904.8 813.7 904.6 813.3 902.9 816.0 902.7 815.6 899.1 820.6 898.9 820.2 881.1 844.7 880.8 844.3 879.1 847.0 878.9 846.6 877.2 849.3 876.9 848.8 875.2 851.5 875.0 851.1 873.3 853.8 873.0 853.4 869.4 858.4 869.1 858.0 867.5 860.7 867.2 860.3 865.5 863.0 865.2 862.6 863.6 865.3 863.3 864.9 826.5 923.4 827.0 923.4 823.9 928.3 824.4 928.3 821.3 933.1 821.8 933.1 818.7 938.0 819.3 938.0 816.2 942.9 816.7 942.9 813.6 947.8 814.1 947.8 811.0 952.7 811.5 952.7 808.5 957.6 809.0 957.6 805.9 962.4 806.4 962.4 803.3 967.3 803.8 967.3 800.7 972.2 801.2 972.2 798.2 977.1 798.7 977.1 793.0 986.8 793.5 986.8 762.3 1036.0 762.0 1035.6 759.0 1040.4 758.7 1040.0 752.3 1049.2 752.0 1048.8 749.0 1053.6 748.7 1053.2 745.7 1058.0 745.4 1057.6 742.3 1062.4 742.1 1062.0 739.0 1066.8 738.7 1066.4 735.7 1071.2 735.4 1070.7 732.3 1075.6 731.9 1075.1 728.9 1080.0 728.5 1079.4 725.4 1084.3 725.1 1083.7 722.0 1088.6 721.7 1088.0 718.6 1092.9 718.2 1092.4 715.1 1097.3 714.8 1096.7 711.6 1101.7 710.9 1100.6 707.7 1105.7 707.1 1104.6 703.9 1109.6 703.2 1108.5 700.0 1113.6 699.3 1112.5 696.2 1117.5 695.5 1116.4 692.3 1121.4 691.6 1120.3 688.4 1125.4 687.8 1124.3 684.6 1129.3 683.9 1128.2 680.7 1133.4 679.6 1131.7 676.4 1136.9 675.3 1135.2 672.1 1140.3 671.0 1138.6 667.7 1143.7 666.7 1142.0 663.4 1147.2 662.3 1145.4 659.1 1150.6 658.0 1148.9 654.8 1154.0 653.7 1152.3 650.4 1157.4 649.1 1155.4 645.9 1160.6 644.4 1158.3 641.2 1163.5 639.8 1161.2 636.5 1166.4Z"/>
<path fill="#00ad63" d="M502.0 1198.6 498.7 1198.6 499.1 1199.1 495.8 1199.1 496.1 1199.7 492.8 1199.7 493.2 1200.3 489.9 1200.3 490.3 1200.9 486.9 1200.9 487.3 1201.5 484.0 1201.5 484.4 1202.1 481.1 1202.1 481.4 1202.6 478.1 1202.6 478.5 1203.2 475.2 1203.2 475.5 1203.8 472.2 1203.8 472.6 1204.4 469.3 1204.4 469.6 1205.0 466.3 1205.0 466.5 1205.3 463.3 1205.3 463.5 1205.6 460.4 1205.6 460.5 1205.9 457.4 1205.9 457.6 1206.2 454.4 1206.2 454.6 1206.5 451.4 1206.5 451.6 1206.7 436.5 1207.9 436.6 1208.2 433.5 1208.2 433.6 1208.5 382.5 1209.5 307.4 1209.7 327.0 1240.7 328.5 1238.3 330.0 1240.7 331.5 1238.3 333.0 1240.7 334.5 1238.3 336.0 1240.7 337.5 1238.3 339.0 1240.7 340.5 1238.3 342.0 1240.7 343.5 1238.3 345.0 1240.7 346.5 1238.3 348.0 1240.6 349.5 1238.3 351.0 1240.6 352.5 1238.3 354.0 1240.6 355.5 1238.2 357.0 1240.6 358.5 1238.2 360.0 1240.6 361.5 1238.2 363.0 1240.6 364.5 1238.2 366.0 1240.6 367.5 1238.2 369.0 1240.6 370.5 1238.2 372.0 1240.6 373.5 1238.2 375.0 1240.6 376.5 1238.2 378.0 1240.6 379.5 1238.2 381.0 1240.6 382.5 1238.2 384.0 1240.5 385.5 1238.2 387.0 1240.5 388.5 1238.2 390.0 1240.5 391.5 1238.1 393.0 1240.5 394.5 1238.1 396.0 1240.5 397.6 1238.1 399.0 1240.5 400.6 1238.1 402.1 1240.5 403.6 1238.1 405.1 1240.4 406.6 1238.0 408.1 1240.3 409.6 1237.9 411.1 1240.3 412.6 1237.9 414.1 1240.2 415.6 1237.8 417.1 1240.2 418.6 1237.8 420.1 1240.1 421.6 1237.7 423.1 1240.0 424.6 1237.6 426.1 1240.0 427.6 1237.6 429.1 1239.9 430.6 1237.5 432.1 1239.9 433.6 1237.5 435.1 1239.8 436.6 1237.4 438.1 1239.7 439.6 1237.3 441.1 1239.7 442.6 1237.3 444.1 1239.6 445.6 1237.2 447.1 1239.6 448.6 1237.2 450.1 1239.5 451.7 1237.0 453.1 1239.2 454.7 1236.7 456.1 1238.9 457.6 1236.4 459.0 1238.6 460.6 1236.1 462.0 1238.3 463.6 1235.8 465.0 1238.0 466.6 1235.5 468.0 1237.7 469.6 1235.2 471.0 1237.5 472.6 1234.9 474.0 1237.2 475.6 1234.6 477.0 1236.9 478.6 1234.4 480.0 1236.6 481.5 1234.1 482.9 1236.3 484.5 1233.8 485.9 1236.0 487.6 1233.3 488.9 1235.4 490.5 1232.8 491.8 1234.8 493.5 1232.2 494.8 1234.2 496.4 1231.6 497.7 1233.6 499.4 1231.0 500.7 1233.1 502.3 1230.4 503.6 1232.5 505.3 1229.9 506.5 1231.9 508.2 1229.3 509.5 1231.3 511.1 1228.7 512.4 1230.7 514.1 1228.1 515.4 1230.1 517.0 1227.5 518.3 1229.6 520.0 1226.9 521.3 1229.0 523.0 1226.2 524.0 1227.7 525.7 1224.9 526.7 1226.4 528.5 1223.6 529.4 1225.1 531.2 1222.3 532.1 1223.8 533.9 1221.1 534.8 1222.6 536.6 1219.8 537.6 1221.3 539.3 1218.5 540.3 1220.0 542.0 1217.2 543.0 1218.7 544.7 1215.9 545.7 1217.4 547.5 1214.7 548.4 1216.2 550.2 1213.4 551.1 1214.9 552.9 1212.1 553.8 1213.6 555.6 1210.8 556.4 1212.1 558.2 1209.3 558.9 1210.4 560.7 1207.6 561.4 1208.8 563.2 1206.0 563.9 1207.1 565.7 1204.3 566.4 1205.5 568.2 1202.6 568.9 1203.8 570.7 1201.0 571.5 1202.1 573.2 1199.3 574.0 1200.5 575.7 1197.7 576.5 1198.8 578.2 1196.0 579.0 1197.2 580.7 1194.4 581.5 1195.5 583.3 1192.7 584.0 1193.9 585.8 1191.1 586.5 1192.2 588.2 1189.4 588.9 1190.4 590.6 1187.8 590.8 1188.1 592.5 1185.5 592.7 1185.8 594.4 1183.1 594.6 1183.5 596.3 1180.8 596.5 1181.1 598.2 1178.5 598.4 1178.8 600.1 1176.2 600.3 1176.5 602.0 1173.8 602.2 1174.2 603.9 1171.5 604.1 1171.8 605.8 1169.2 606.0 1169.5 607.7 1166.9 607.9 1167.2 609.6 1164.5 609.8 1164.9 613.4 1159.9 613.6 1160.2 615.2 1157.6 615.4 1157.9 624.5 1145.7 624.6 1146.0 640.6 1124.2 667.4 1084.4 688.6 1050.8 688.3 1050.8 690.0 1048.2 689.7 1048.2 691.4 1045.5 691.1 1045.5 692.8 1042.8 692.4 1042.8 694.1 1040.2 693.8 1040.2 695.5 1037.5 695.2 1037.5 696.9 1034.8 696.6 1034.8 698.3 1032.2 698.0 1032.2 701.0 1026.8 700.8 1026.8 714.7 1003.5 714.3 1003.5 716.0 1000.8 715.6 1000.8 717.3 998.1 716.9 998.1 718.6 995.4 718.2 995.4 719.9 992.7 719.5 992.7 721.2 990.0 720.8 990.0 722.5 987.3 722.1 987.3 723.8 984.6 723.4 984.6 725.1 981.9 724.7 981.9 726.4 979.2 726.1 979.2 752.1 935.1 777.4 894.3 798.8 858.1 798.5 858.1 800.2 855.4 799.8 855.4 801.5 852.7 801.1 852.7 802.8 850.0 802.4 850.0 804.1 847.3 803.7 847.3 805.4 844.6 805.0 844.6 806.7 841.9 806.3 841.9 808.0 839.2 807.6 839.2 809.3 836.5 808.8 836.5 810.6 833.8 810.1 833.8 811.9 831.1 811.4 831.1 813.1 828.4 812.7 828.4 814.4 825.6 814.0 825.6 815.7 822.9 815.3 822.9 817.0 820.2 816.6 820.2 818.3 817.5 817.9 817.5 819.6 814.8 819.2 814.8 820.9 812.1 820.5 812.1 822.2 809.4 821.8 809.4 823.5 806.7 823.1 806.7 824.8 804.0 824.4 804.0 826.1 801.3 825.7 801.3 827.4 798.6 827.0 798.6 828.7 795.9 828.3 795.9 830.0 793.1 829.6 793.1 831.3 790.4 830.9 790.4 832.6 787.7 832.2 787.7 833.9 785.0 833.5 785.0 835.2 782.3 834.7 782.3 836.5 779.6 836.0 779.6 837.8 776.9 837.3 776.9 839.0 774.2 838.6 774.2 840.3 771.5 839.9 771.5 841.6 768.8 841.2 768.8 844.1 763.3 843.6 763.3 845.3 760.5 844.8 760.5 846.5 757.8 846.0 757.8 847.7 755.0 847.2 755.0 848.9 752.3 848.4 752.3 870.9 716.6 870.3 716.6 872.1 713.8 871.4 713.8 873.2 711.0 872.6 711.0 874.3 708.2 873.7 708.2 875.4 705.5 874.8 705.5 876.6 702.7 875.9 702.7 877.7 699.9 877.1 699.9 878.8 697.1 878.2 697.1 880.0 694.3 879.3 694.3 881.1 691.6 880.5 691.6 882.2 688.8 881.6 688.8 885.6 681.8 892.0 692.0 892.5 691.2 893.7 693.1 895.4 690.3 896.6 692.1 898.3 689.4 899.4 691.2 901.1 688.5 902.3 690.3 904.0 687.6 904.8 689.0 924.4 658.0 928.5 650.7 935.4 640.9 948.4 620.6 948.6 620.8 950.2 618.2 950.5 618.5 952.1 615.9 952.4 616.2 954.1 613.5 954.3 613.9 956.0 611.2 956.2 611.6 957.9 608.9 958.1 609.3 959.8 606.6 960.1 607.0 961.8 604.2 962.3 605.0 964.0 602.2 964.5 603.0 966.3 600.2 966.7 601.0 968.5 598.2 969.0 598.9 970.7 596.2 971.2 596.9 972.9 594.2 973.4 594.9 975.2 592.1 975.7 593.0 977.5 590.2 978.2 591.2 979.9 588.4 980.6 589.5 982.4 586.7 983.1 587.8 984.8 585.0 985.5 586.0 987.3 583.2 987.9 584.3 989.7 581.5 990.7 583.0 992.4 580.3 993.4 581.8 995.2 579.0 996.1 580.6 997.9 577.8 998.9 579.3 1000.6 576.5 1001.6 578.1 1003.4 575.3 1004.4 576.8 1006.1 574.1 1007.1 575.6 1008.8 572.8 1009.8 574.4 1011.6 571.6 1012.6 573.1 1014.3 570.4 1015.3 571.9 1017.1 569.1 1018.0 570.7 1019.8 567.9 1020.8 569.4 1022.4 566.8 1023.7 568.8 1025.4 566.2 1026.6 568.2 1028.3 565.5 1029.6 567.6 1031.2 564.9 1032.5 566.9 1034.2 564.3 1035.4 566.3 1037.1 563.7 1038.4 565.7 1040.0 563.1 1041.3 565.2 1043.0 562.7 1044.3 564.8 1045.9 562.3 1047.3 564.4 1048.9 561.9 1050.3 564.0 1051.9 561.5 1053.2 563.6 1054.9 561.1 1056.2 563.2 1057.8 560.6 1059.2 562.8 1060.8 560.2 1062.2 562.4 1063.8 559.8 1065.1 562.0 1066.8 559.4 1068.1 561.6 1069.6 559.3 1071.1 561.7 1072.6 559.4 1074.1 561.8 1075.6 559.4 1077.1 561.9 1078.6 559.5 1080.1 561.9 1081.6 559.6 1083.1 562.0 1084.6 559.7 1086.1 562.1 1087.6 559.8 1089.1 562.2 1090.6 559.9 1092.1 562.3 1093.6 559.9 1095.1 562.4 1096.4 560.3 1098.0 562.9 1099.2 561.1 1100.9 563.9 1102.0 562.1 1103.7 564.8 1104.8 563.1 1106.6 565.8 1107.7 564.0 1109.4 566.8 1110.5 565.0 1112.3 567.7 1113.4 566.0 1115.1 568.7 1117.2 565.3 1120.7 570.8 1122.8 567.4 1126.3 572.9 1128.4 569.5 1131.8 574.9 1134.1 571.4 1137.5 576.8 1139.8 573.1 1143.2 578.5 1145.5 574.8 1148.9 580.2 1151.1 576.6 1154.5 582.0 1156.6 578.8 1160.0 584.3 1162.1 581.0 1165.5 586.5 1167.6 583.3 1171.1 588.8 1173.0 585.6 1176.5 591.1 1178.5 588.0 1182.0 593.5 1183.9 590.4 1187.4 595.9 1189.4 592.8 1192.9 598.3 1194.8 595.2 1198.3 600.7 1200.9 596.6 1207.1 606.4 1209.7 602.3 1216.0 612.1 1218.6 607.9 1224.8 617.7 1227.8 613.0 1234.0 622.8 1237.0 618.1 1243.2 627.9 1246.2 623.2 1252.4 633.0 1256.0 627.2 1262.1 636.8 1266.3 630.2 1272.2 639.6 1276.4 633.0 1282.3 642.5 1286.2 636.3 1292.2 645.8 1295.0 641.4 1301.2 651.2 1304.0 646.8 1310.2 656.7 1313.3 651.8 1319.4 661.6 1323.6 655.0 1329.6 664.4 1333.7 657.8 1339.7 667.2 1344.2 660.0 1350.0 669.2 1354.5 662.0 1360.3 671.1 1364.9 664.0 1370.6 673.1 1375.2 665.8 1381.0 674.9 1385.6 667.6 1391.3 676.7 1395.9 669.4 1401.7 678.5 1405.1 673.0 1411.2 682.6 1413.9 678.2 1420.1 688.1 1424.3 681.5 1430.2 690.8 1434.7 683.7 1440.5 692.8 1445.0 685.7 1450.8 694.9 1455.0 688.2 1460.9 697.5 1465.0 691.1 1471.0 700.6 1474.1 695.6 1480.3 705.4 1483.5 700.4 1489.7 710.2 1492.9 705.0 1499.1 714.8 1503.4 707.9 1509.3 717.2 1513.7 710.4 1519.5 719.7 1523.9 712.8 1529.8 722.1 1534.1 715.2 1540.0 724.5 1544.9 716.8 1550.4 725.6 1555.3 717.9 1560.9 726.6 1565.8 718.9 1571.3 727.7 1576.2 720.0 1581.8 728.9 1586.1 722.0 1592.0 731.3 1596.3 724.4 1602.2 733.7 1606.6 726.8 1612.4 736.1 1616.8 729.2 1622.7 738.5 1627.0 731.7 1632.8 741.0 1637.1 734.2 1643.0 743.6 1647.3 736.8 1653.2 746.1 1657.4 739.5 1663.4 748.9 1667.2 742.8 1673.2 752.4 1677.1 746.4 1683.1 756.0 1686.9 749.9 1693.0 759.5 1697.0 753.3 1703.0 762.8 1707.8 755.1 1713.4 763.9 1718.3 756.2 1723.9 765.0 1728.7 757.4 1734.3 766.2 1739.2 758.5 1744.7 767.3 1749.6 759.6 1755.2 768.5 1760.1 760.7 1765.6 769.6 1770.5 761.9 1776.1 770.7 1780.6 763.6 1786.3 772.7 1790.2 766.5 1796.3 776.1 1800.2 769.9 1806.2 779.5 1825.8 748.5 1813.7 748.5 1815.9 745.1 1803.8 745.1 1805.9 741.7 1794.4 741.7 1795.7 739.7 1784.5 739.7 1785.2 738.6 1774.1 738.6 1774.8 737.5 1763.6 737.5 1764.3 736.3 1753.2 736.3 1753.9 735.2 1742.7 735.2 1743.5 734.0 1732.3 734.0 1733.0 732.9 1721.9 732.9 1722.6 731.8 1710.6 731.8 1712.6 728.5 1700.5 728.5 1702.7 725.0 1690.6 725.0 1692.8 721.4 1680.7 721.4 1683.0 717.9 1671.1 717.9 1672.8 715.1 1661.1 715.1 1662.6 712.6 1650.9 712.6 1652.4 710.0 1640.7 710.0 1642.3 707.5 1630.5 707.5 1632.0 705.1 1620.3 705.1 1621.8 702.7 1610.1 702.7 1611.6 700.3 1599.8 700.3 1601.4 697.9 1590.2 697.9 1590.9 696.7 1579.8 696.7 1580.5 695.6 1569.4 695.6 1570.0 694.6 1558.9 694.6 1559.6 693.5 1547.8 693.5 1549.4 691.1 1537.6 691.1 1539.1 688.7 1527.4 688.7 1528.9 686.2 1517.2 686.2 1518.7 683.8 1506.4 683.8 1509.3 679.2 1496.9 679.2 1499.9 674.4 1487.5 674.4 1490.6 669.6 1478.6 669.6 1480.5 666.5 1468.7 666.5 1470.4 663.9 1458.8 663.9 1460.1 661.8 1448.5 661.8 1449.8 659.8 1438.0 659.8 1439.7 657.1 1427.3 657.1 1430.8 651.6 1418.7 651.6 1421.3 647.5 1409.8 647.5 1410.9 645.7 1399.4 645.7 1400.6 643.9 1389.1 643.9 1390.2 642.1 1378.7 642.1 1379.9 640.1 1368.4 640.1 1369.6 638.2 1358.0 638.2 1359.3 636.2 1347.4 636.2 1349.2 633.4 1337.3 633.4 1339.0 630.6 1326.7 630.6 1329.8 625.7 1317.4 625.7 1320.8 620.2 1308.4 620.2 1311.8 614.8 1299.8 614.8 1301.9 611.5 1290.0 611.5 1291.8 608.6 1279.9 608.6 1281.7 605.8 1269.6 605.8 1272.0 602.0 1259.6 602.0 1262.8 596.9 1250.4 596.9 1253.6 591.8 1241.2 591.8 1244.4 586.7 1232.0 586.7 1235.6 581.1 1223.1 581.1 1226.7 575.4 1214.3 575.4 1217.9 569.7 1210.9 569.7 1212.5 567.3 1205.5 567.3 1207.0 564.9 1200.0 564.9 1201.6 562.5 1194.6 562.5 1196.1 560.1 1189.2 560.1 1190.7 557.8 1183.7 557.8 1185.1 555.5 1178.2 555.5 1179.6 553.3 1172.7 553.3 1174.1 551.0 1167.3 551.0 1168.5 549.2 1161.7 549.2 1162.8 547.5 1156.0 547.5 1157.1 545.8 1150.3 545.8 1151.4 543.9 1144.5 543.9 1145.9 541.9 1139.0 541.9 1140.3 539.8 1133.4 539.8 1134.7 537.7 1131.2 537.7 1131.9 536.7 1128.4 536.7 1129.0 535.8 1125.6 535.8 1126.2 534.8 1122.7 534.8 1123.3 533.8 1119.9 533.8 1120.5 532.9 1117.0 532.9 1117.6 531.9 1114.4 531.9 1114.7 531.4 1087.7 530.6 1048.5 530.6 1048.8 531.0 1042.6 531.4 1042.8 531.8 1039.6 531.8 1039.9 532.2 1036.6 532.2 1036.9 532.6 1033.6 532.6 1033.9 533.0 1030.7 533.0 1030.9 533.4 1027.7 533.4 1028.0 533.8 1024.7 533.8 1025.0 534.2 1021.7 534.2 1022.0 534.7 1018.8 534.7 1019.2 535.3 1015.8 535.3 1016.2 535.9 1012.9 535.9 1013.3 536.6 1010.0 536.6 1010.4 537.2 1007.0 537.2 1007.4 537.8 1004.1 537.8 1004.5 538.4 1001.2 538.4 1001.9 539.7 998.4 539.7 999.2 540.9 995.7 540.9 996.5 542.1 993.0 542.1 993.7 543.4 990.2 543.4 991.0 544.6 987.5 544.6 988.3 545.8 984.8 545.8 985.5 547.1 982.0 547.1 982.8 548.3 979.3 548.3 980.1 549.6 976.5 549.6 977.3 550.8 973.8 550.8 974.6 552.0 971.1 552.0 971.9 553.3 968.3 553.3 969.4 555.0 965.9 555.0 967.0 556.8 963.5 556.8 964.6 558.5 961.0 558.5 962.1 560.2 958.6 560.2 959.7 562.0 956.1 562.0 957.3 563.9 953.8 563.9 955.1 565.9 951.6 565.9 952.9 567.9 949.4 567.9 950.6 570.0 947.1 570.0 948.4 572.0 944.9 572.0 946.2 574.0 942.7 574.0 944.0 576.0 940.5 576.0 941.9 578.3 938.5 578.3 940.0 580.6 936.6 580.6 938.0 582.9 934.7 582.9 936.1 585.2 932.8 585.2 934.2 587.5 930.9 587.5 932.3 589.8 929.0 589.8 930.4 592.2 927.1 592.2 928.7 594.7 925.5 594.7 927.1 597.3 923.9 597.3 925.5 599.8 922.2 599.8 923.8 602.3 920.6 602.3 922.2 604.8 919.0 604.8 920.6 607.4 917.4 607.4 919.0 609.9 915.8 609.9 917.3 612.4 914.1 612.4 915.6 614.8 912.4 614.8 913.9 617.3 910.7 617.3 912.2 619.8 908.9 619.8 910.5 622.3 907.2 622.3 908.8 624.7 905.5 624.7 907.1 627.2 903.8 627.2 905.4 629.7 902.2 629.7 903.7 632.2 900.5 632.2 902.1 634.7 898.9 634.7 899.1 635.0 867.9 635.0 869.3 637.3 868.3 637.3 868.4 638.0 869.9 640.3 868.8 640.3 869.1 640.8 867.7 640.8 869.4 643.5 866.5 643.5 868.2 646.2 865.2 646.2 866.9 648.9 863.9 648.9 865.7 651.6 862.7 651.6 864.4 654.3 861.3 654.3 863.0 657.0 859.9 657.0 861.6 659.6 858.5 659.6 860.2 662.3 857.1 662.3 858.8 664.9 855.7 664.9 857.4 667.6 854.3 667.6 856.0 670.2 852.9 670.2 854.5 672.9 851.4 672.9 853.1 675.5 850.0 675.5 851.6 678.1 848.5 678.1 850.2 680.7 847.1 680.7 848.7 683.4 845.6 683.4 847.3 686.0 844.2 686.0 845.9 688.8 843.0 688.8 844.8 691.6 841.9 691.6 843.6 694.3 840.8 694.3 842.5 697.1 839.6 697.1 841.4 699.9 838.5 699.9 840.3 702.7 837.4 702.7 839.1 705.5 836.2 705.5 838.0 708.2 835.1 708.2 836.9 711.0 834.0 711.0 835.7 713.8 832.9 713.8 834.6 716.6 831.7 716.6 833.3 719.1 830.0 719.1 831.6 721.6 828.4 721.6 830.0 724.1 826.7 724.1 828.3 726.6 825.1 726.6 826.7 729.1 823.4 729.1 825.0 731.6 821.8 731.6 823.3 734.1 820.1 734.1 821.7 736.6 818.4 736.6 820.0 739.1 816.8 739.1 818.4 741.6 815.1 741.6 816.7 744.1 813.5 744.1 815.2 746.8 812.2 746.8 813.9 749.6 811.0 749.6 812.7 752.3 809.7 752.3 811.5 755.0 808.5 755.0 810.3 757.8 807.3 757.8 809.1 760.5 806.1 760.5 807.8 763.3 804.9 763.3 806.6 766.0 803.7 766.0 805.4 768.8 802.4 768.8 804.2 771.5 801.1 771.5 802.9 774.2 799.8 774.2 801.6 776.9 798.6 776.9 800.3 779.6 797.3 779.6 799.0 782.3 796.0 782.3 797.7 785.0 794.7 785.0 796.4 787.7 793.4 787.7 795.1 790.4 792.1 790.4 793.8 793.1 790.8 793.1 792.5 795.9 789.5 795.9 791.2 798.6 788.2 798.6 789.9 801.3 786.9 801.3 788.6 804.0 785.6 804.0 787.3 806.7 784.3 806.7 786.0 809.4 783.0 809.4 784.7 812.1 781.7 812.1 783.4 814.8 780.4 814.8 782.1 817.5 779.1 817.5 780.8 820.2 777.8 820.2 779.5 822.9 776.5 822.9 778.3 825.6 775.2 825.6 777.0 828.4 773.9 828.4 775.7 831.1 772.7 831.1 774.4 833.8 771.4 833.8 773.1 836.5 770.1 836.5 771.8 839.2 768.8 839.2 770.5 841.9 767.5 841.9 769.2 844.6 766.2 844.6 767.9 847.3 764.9 847.3 766.6 850.0 763.6 850.0 765.3 852.7 762.3 852.7 764.0 855.4 761.0 855.4 762.7 858.1 759.6 858.1 761.2 860.7 758.1 860.7 759.7 863.3 756.5 863.3 758.2 865.8 755.0 865.8 756.7 868.4 753.5 868.4 755.1 871.0 752.0 871.0 753.6 873.6 750.4 873.6 752.1 876.2 748.9 876.2 750.6 878.8 747.4 878.8 749.0 881.4 745.9 881.4 747.5 883.9 744.3 883.9 746.0 886.5 742.8 886.5 744.5 889.1 741.3 889.1 742.9 891.7 739.8 891.7 741.4 894.3 738.2 894.3 739.9 896.8 736.7 896.8 738.3 899.4 735.1 899.4 736.7 901.9 733.5 901.9 735.1 904.5 731.9 904.5 733.5 907.0 730.3 907.0 731.9 909.6 728.7 909.6 730.3 912.1 727.1 912.1 728.8 914.7 725.6 914.7 727.2 917.2 724.0 917.2 725.6 919.8 722.4 919.8 724.0 922.3 720.8 922.3 722.4 924.9 719.2 924.9 720.8 927.4 717.6 927.4 719.2 930.0 716.0 930.0 717.7 932.5 714.5 932.5 716.1 935.1 713.0 935.1 714.6 937.7 711.4 937.7 713.1 940.3 709.9 940.3 711.6 942.9 708.4 942.9 710.0 945.5 706.9 945.5 708.5 948.1 705.4 948.1 707.0 950.7 703.8 950.7 705.5 953.2 702.3 953.2 703.9 955.8 700.8 955.8 702.4 958.4 699.3 958.4 700.9 961.0 697.7 961.0 699.4 963.6 696.2 963.6 697.9 966.2 694.7 966.2 696.3 968.8 693.2 968.8 694.8 971.4 691.7 971.4 693.3 973.9 690.1 973.9 691.8 976.5 688.6 976.5 690.3 979.2 687.2 979.2 688.9 981.9 685.9 981.9 687.6 984.6 684.6 984.6 686.3 987.3 683.3 987.3 685.0 990.0 682.0 990.0 683.7 992.7 680.7 992.7 682.4 995.4 679.4 995.4 681.1 998.1 678.1 998.1 679.8 1000.8 676.8 1000.8 678.5 1003.5 675.5 1003.5 677.2 1006.2 674.1 1006.2 675.7 1008.8 672.5 1008.8 674.2 1011.3 671.0 1011.3 672.6 1013.9 669.5 1013.9 671.1 1016.5 667.9 1016.5 669.5 1019.0 666.4 1019.0 668.0 1021.6 664.8 1021.6 666.4 1024.2 663.3 1024.2 664.9 1026.8 661.8 1026.8 663.5 1029.5 660.5 1029.5 662.1 1032.2 659.1 1032.2 660.8 1034.8 657.7 1034.8 659.4 1037.5 656.3 1037.5 658.0 1040.2 654.9 1040.2 656.6 1042.8 653.6 1042.8 655.2 1045.5 652.2 1045.5 653.9 1048.2 650.8 1048.2 652.5 1050.8 649.4 1050.8 651.0 1053.4 647.8 1053.4 649.4 1055.9 646.2 1055.9 647.8 1058.4 644.5 1058.4 646.1 1060.9 642.9 1060.9 644.4 1063.4 641.2 1063.4 642.8 1065.9 639.5 1065.9 641.1 1068.4 637.9 1068.4 639.5 1070.9 636.2 1070.9 637.8 1073.4 634.6 1073.4 636.1 1075.9 632.9 1075.9 634.4 1078.3 631.2 1078.3 632.7 1080.8 629.5 1080.8 631.0 1083.3 627.8 1083.3 629.3 1085.8 626.1 1085.8 627.6 1088.2 624.4 1088.2 625.9 1090.7 622.7 1090.7 624.2 1093.2 621.0 1093.2 622.5 1095.6 619.2 1095.6 620.7 1098.1 617.4 1098.1 619.0 1100.5 615.7 1100.5 617.2 1102.9 613.9 1102.9 615.4 1105.3 612.1 1105.3 613.7 1107.8 610.4 1107.8 611.9 1110.2 608.6 1110.2 610.1 1112.6 606.8 1112.6 608.4 1115.0 605.0 1115.0 606.5 1117.4 603.2 1117.4 604.7 1119.7 601.3 1119.7 602.8 1122.1 599.5 1122.1 601.0 1124.5 597.7 1124.5 599.2 1126.9 595.8 1126.9 597.3 1129.2 594.0 1129.2 595.4 1131.5 592.1 1131.5 593.5 1133.9 590.2 1133.9 591.6 1136.2 588.3 1136.2 589.7 1138.5 586.4 1138.5 587.8 1140.8 584.5 1140.8 585.9 1143.2 582.6 1143.2 584.0 1145.5 580.7 1145.5 582.1 1147.8 578.8 1147.8 580.2 1150.1 576.9 1150.1 578.3 1152.5 575.0 1152.5 576.4 1154.8 573.1 1154.8 574.5 1157.1 571.2 1157.1 572.6 1159.4 569.3 1159.4 570.4 1161.2 566.9 1161.2 567.9 1162.9 564.4 1162.9 565.4 1164.5 561.9 1164.5 562.9 1166.2 559.4 1166.2 560.4 1167.8 556.9 1167.8 557.9 1169.5 554.4 1169.5 555.4 1171.1 551.9 1171.1 552.9 1172.8 549.3 1172.8 550.4 1174.5 546.8 1174.5 547.9 1176.1 544.3 1176.1 545.4 1177.8 541.8 1177.8 542.9 1179.4 539.3 1179.4 540.4 1181.1 536.8 1181.1 537.8 1182.6 534.2 1182.6 535.1 1183.9 531.5 1183.9 532.3 1185.2 528.8 1185.2 529.6 1186.4 526.1 1186.4 526.9 1187.7 523.4 1187.7 524.2 1189.0 520.7 1189.0 521.5 1190.3 518.0 1190.3 518.8 1191.6 515.2 1191.6 516.0 1192.8 512.5 1192.8 513.3 1194.1 509.8 1194.1 510.6 1195.4 507.1 1195.4 507.9 1196.7 504.4 1196.7 505.2 1198.0 501.7 1198.0Z"/>
<path fill="#c278e0" d="M458.7 1186.1 443.9 1201.2 325.4 1202.5 307.4 1218.4 307.4 1221.2 325.4 1237.1 448.4 1235.8 450.0 1234.3 450.7 1234.3 468.7 1218.4 496.0 1190.6 496.0 1190.1 497.9 1188.3 497.9 1187.8 499.9 1186.1 499.9 1185.5 501.8 1183.8 501.8 1183.3 503.8 1181.5 503.8 1181.0 505.7 1179.3 505.7 1178.7 507.7 1177.0 507.7 1176.5 509.7 1174.7 509.7 1174.2 511.6 1172.5 511.6 1171.9 513.6 1170.2 513.6 1169.7 519.4 1163.4 519.4 1162.6 521.2 1161.0 521.2 1160.1 522.9 1158.5 522.9 1157.6 524.7 1156.1 524.7 1155.1 526.4 1153.6 526.4 1152.7 528.1 1151.2 528.1 1150.2 529.8 1148.7 529.8 1147.8 531.5 1146.2 531.5 1145.3 533.2 1143.8 533.2 1142.8 534.9 1141.3 534.9 1140.4 536.6 1138.9 536.6 1137.9 538.3 1136.4 538.3 1135.5 540.0 1133.9 540.0 1133.0 541.7 1131.5 541.7 1130.5 543.4 1129.0 543.4 1128.1 545.1 1126.6 545.1 1125.6 546.8 1124.1 546.8 1123.2 548.5 1121.6 548.5 1120.7 550.3 1119.2 550.3 1118.2 552.0 1116.7 552.0 1115.8 553.7 1114.3 553.7 1113.3 555.4 1111.8 555.4 1110.8 557.1 1109.3 557.1 1108.4 558.8 1106.9 558.8 1105.8 560.4 1104.4 560.4 1103.2 562.0 1101.8 562.0 1100.7 563.6 1099.3 563.6 1098.2 565.2 1096.8 565.2 1095.6 566.8 1094.2 566.8 1093.1 568.4 1091.7 568.4 1090.6 570.0 1089.2 570.0 1088.0 571.6 1086.6 571.6 1085.5 573.2 1084.1 573.2 1082.9 574.7 1081.5 574.7 1080.4 576.3 1079.0 576.3 1077.9 577.9 1076.5 577.9 1075.3 579.5 1073.9 579.5 1072.8 581.1 1071.4 581.1 1070.3 582.7 1068.9 582.7 1067.7 584.3 1066.3 584.3 1065.2 585.9 1063.8 585.9 1062.4 587.3 1061.1 587.3 1059.6 588.6 1058.4 588.6 1056.9 589.8 1055.7 589.8 1054.2 591.1 1053.0 591.1 1051.4 592.4 1050.3 592.4 1048.7 593.7 1047.6 593.7 1046.0 595.0 1044.9 595.0 1043.3 596.2 1042.2 596.2 1040.6 597.5 1039.5 597.5 1037.9 598.8 1036.8 598.8 1035.2 600.1 1034.1 600.1 1032.5 601.4 1031.4 601.4 1029.8 602.6 1028.7 602.6 1027.1 603.9 1026.0 603.9 1024.4 605.2 1023.2 605.2 1021.9 606.7 1020.6 606.7 1019.4 608.2 1018.1 608.2 1016.9 609.7 1015.5 609.7 1014.3 611.3 1012.9 611.3 1011.7 612.8 1010.4 612.8 1009.2 614.4 1007.8 614.4 1006.6 615.9 1005.2 615.9 1004.0 617.4 1002.7 617.4 1001.5 619.0 1000.1 619.0 998.9 620.5 997.5 620.5 996.3 622.1 995.0 622.1 993.8 623.6 992.4 623.6 991.1 625.1 989.8 625.1 988.5 626.6 987.2 626.6 985.9 628.0 984.6 628.0 983.3 629.5 982.0 629.5 980.7 631.0 979.4 631.0 978.1 632.5 976.8 632.5 975.6 633.6 975.3 647.7 964.2 685.6 930.2 707.3 909.7 727.9 892.6 747.2 878.5 751.2 876.1 753.0 876.1 754.0 875.2 755.9 875.2 756.9 874.3 758.7 874.3 759.7 873.3 761.5 873.3 762.6 872.4 766.3 872.0 776.8 881.3 780.0 881.3 798.0 865.4 798.0 862.6 793.4 858.5 800.8 852.3 802.5 852.3 803.1 851.8 805.4 851.8 806.1 851.2 808.4 851.2 809.0 850.6 811.3 850.6 811.9 850.1 814.3 850.1 814.9 849.5 817.2 849.5 817.8 849.0 820.2 849.0 820.8 848.4 823.1 848.4 823.7 847.9 826.3 847.6 854.7 847.7 855.6 848.5 857.3 848.5 858.4 849.5 860.1 849.5 861.2 850.5 862.9 850.5 864.1 851.5 865.7 851.5 866.9 852.6 868.5 852.6 869.7 853.6 871.3 853.6 872.5 854.6 875.7 854.6 877.0 853.4 879.5 855.6 882.7 855.6 884.0 854.5 886.5 856.6 889.7 856.6 891.0 855.5 893.5 857.7 896.7 857.7 898.0 856.5 900.5 858.7 903.7 858.7 905.0 857.5 907.5 859.7 910.7 859.7 911.9 858.6 914.5 860.8 917.7 860.8 918.8 859.7 921.4 862.0 924.6 862.0 925.8 861.0 928.4 863.2 931.6 863.2 932.8 862.2 935.3 864.4 938.5 864.4 939.7 863.4 942.3 865.7 945.5 865.7 946.7 864.6 949.3 866.9 952.5 866.9 954.1 865.4 956.3 867.3 959.5 867.3 961.2 865.9 963.4 867.8 966.6 867.8 968.2 866.3 970.4 868.2 973.6 868.2 975.3 866.8 977.5 868.7 980.7 868.7 982.4 867.2 984.5 869.1 987.7 869.1 989.4 867.6 991.6 869.6 994.8 869.6 996.5 868.1 998.6 870.0 1001.8 870.0 1003.8 868.3 1005.7 869.9 1008.9 869.9 1010.9 868.2 1012.8 869.9 1016.0 869.9 1017.9 868.2 1019.8 869.9 1023.0 869.9 1025.0 868.1 1026.9 869.8 1030.1 869.8 1032.1 868.1 1034.0 869.8 1037.2 869.8 1039.1 868.0 1041.0 869.7 1044.2 869.7 1046.2 868.0 1048.1 869.7 1051.3 869.7 1053.3 867.9 1055.2 869.6 1058.4 869.6 1060.3 867.9 1062.2 869.6 1065.4 869.6 1067.4 867.8 1069.3 869.5 1072.5 869.5 1074.3 868.0 1076.4 869.8 1079.6 869.8 1081.2 868.4 1083.4 870.3 1086.6 870.3 1088.3 868.8 1090.5 870.7 1093.7 870.7 1095.4 869.2 1097.5 871.2 1100.7 871.2 1102.4 869.7 1104.6 871.6 1107.8 871.6 1109.4 870.2 1111.6 872.2 1114.8 872.2 1116.4 870.8 1118.7 872.8 1121.9 872.8 1123.4 871.4 1125.7 873.4 1128.9 873.4 1130.5 872.0 1132.8 874.0 1136.0 874.0 1137.5 872.6 1139.8 874.6 1143.0 874.6 1144.4 873.4 1146.8 875.6 1150.0 875.6 1151.1 874.7 1153.7 877.0 1156.9 877.0 1158.0 876.1 1160.6 878.4 1163.8 878.4 1164.8 877.6 1167.5 880.0 1170.7 880.0 1171.6 879.2 1174.4 881.6 1177.6 881.6 1178.6 880.7 1181.3 883.1 1184.5 883.1 1185.9 881.9 1188.3 884.0 1191.5 884.0 1193.0 882.7 1195.3 884.8 1198.5 884.8 1200.0 883.5 1202.4 885.6 1205.6 885.6 1207.0 884.4 1209.4 886.5 1212.6 886.5 1214.0 885.2 1216.4 887.3 1219.6 887.3 1222.1 885.1 1226.2 888.8 1229.4 888.8 1231.8 886.6 1236.0 890.2 1239.2 890.2 1241.6 888.1 1245.7 891.7 1248.9 891.7 1251.3 889.6 1255.5 893.3 1258.7 893.3 1260.9 891.3 1265.2 895.1 1268.4 895.1 1270.7 893.2 1275.0 897.0 1278.2 897.0 1280.4 895.0 1284.7 898.8 1287.9 898.8 1290.2 896.8 1294.4 900.5 1297.6 900.5 1300.0 898.4 1304.2 902.1 1307.4 902.1 1309.8 900.0 1314.0 903.7 1317.2 903.7 1318.7 902.4 1323.4 906.5 1326.6 906.5 1327.8 905.4 1332.7 909.8 1335.9 909.8 1338.5 907.5 1342.5 911.1 1345.7 911.1 1348.5 908.6 1352.3 912.1 1355.5 912.1 1358.2 909.7 1362.2 913.2 1365.4 913.2 1368.1 910.8 1372.0 914.3 1375.2 914.3 1377.9 911.9 1381.8 915.4 1385.0 915.4 1387.4 913.3 1391.6 917.0 1394.8 917.0 1397.0 915.1 1401.3 918.9 1404.5 918.9 1406.7 916.9 1411.0 920.7 1414.2 920.7 1416.9 918.4 1420.8 921.9 1424.0 921.9 1426.9 919.3 1430.7 922.6 1433.9 922.6 1436.8 920.1 1440.6 923.4 1443.8 923.4 1446.7 920.8 1450.4 924.1 1453.6 924.1 1456.5 921.6 1460.3 924.9 1463.5 924.9 1466.3 922.5 1470.1 925.8 1473.3 925.8 1476.2 923.3 1480.0 926.7 1483.2 926.7 1486.0 924.2 1489.9 927.6 1493.1 927.6 1495.9 925.1 1499.7 928.5 1502.9 928.5 1505.9 925.9 1509.6 929.1 1512.8 929.1 1515.8 926.5 1519.5 929.7 1522.7 929.7 1525.7 927.0 1529.3 930.3 1532.5 930.3 1535.6 927.6 1539.2 930.8 1542.4 930.8 1545.4 928.1 1549.1 931.4 1552.3 931.4 1555.3 928.7 1559.0 931.9 1562.2 931.9 1565.2 929.3 1568.8 932.5 1572.0 932.5 1575.1 929.8 1578.7 933.0 1581.9 933.0 1585.0 930.3 1588.6 933.5 1591.8 933.5 1594.9 930.8 1598.5 934.0 1601.7 934.0 1604.7 931.3 1608.4 934.5 1611.6 934.5 1614.7 931.7 1618.2 934.9 1621.4 934.9 1624.5 932.2 1628.1 935.3 1631.3 935.3 1634.4 932.6 1638.0 935.8 1641.2 935.8 1644.3 933.0 1647.9 936.2 1651.1 936.2 1669.1 920.3 1669.1 917.5 1651.1 901.6 1647.9 901.6 1644.8 904.3 1641.2 901.2 1638.0 901.2 1634.9 903.9 1631.3 900.7 1628.1 900.7 1625.0 903.5 1621.4 900.3 1618.2 900.3 1615.2 903.0 1611.6 899.9 1608.4 899.9 1605.3 902.6 1601.7 899.4 1598.5 899.4 1595.4 902.1 1591.8 898.9 1588.6 898.9 1585.5 901.6 1581.9 898.4 1578.7 898.4 1575.7 901.1 1572.0 897.9 1568.8 897.9 1565.8 900.6 1562.2 897.3 1559.0 897.3 1555.9 900.0 1552.3 896.8 1549.1 896.8 1546.1 899.4 1542.4 896.2 1539.2 896.2 1536.2 898.9 1532.5 895.7 1529.3 895.7 1526.3 898.3 1522.7 895.1 1519.5 895.1 1516.4 897.8 1512.8 894.5 1509.6 894.5 1506.6 897.2 1502.9 893.9 1499.7 893.9 1496.9 896.4 1493.1 893.0 1489.9 893.0 1487.0 895.5 1483.2 892.1 1480.0 892.1 1477.2 894.6 1473.3 891.2 1470.1 891.2 1467.3 893.7 1463.5 890.3 1460.3 890.3 1457.4 892.9 1453.6 889.5 1450.4 889.5 1447.5 892.1 1443.8 888.8 1440.6 888.8 1437.7 891.3 1433.9 888.0 1430.7 888.0 1427.8 890.6 1424.0 887.3 1420.8 887.3 1418.2 889.6 1414.2 886.1 1411.0 886.1 1408.8 888.1 1404.5 884.3 1401.3 884.3 1399.1 886.2 1394.8 882.4 1391.6 882.4 1389.3 884.5 1385.0 880.8 1381.8 880.8 1379.1 883.1 1375.2 879.7 1372.0 879.7 1369.3 882.0 1365.4 878.6 1362.2 878.6 1359.5 880.9 1355.5 877.5 1352.3 877.5 1349.6 879.9 1345.7 876.5 1342.5 876.5 1340.0 878.7 1335.9 875.2 1332.7 875.2 1331.5 876.3 1326.6 871.9 1323.4 871.9 1321.9 873.3 1317.2 869.1 1314.0 869.1 1311.6 871.2 1307.4 867.5 1304.2 867.5 1301.8 869.6 1297.6 865.9 1294.4 865.9 1292.1 868.0 1287.9 864.2 1284.7 864.2 1282.5 866.2 1278.2 862.4 1275.0 862.4 1272.7 864.3 1268.4 860.5 1265.2 860.5 1263.0 862.5 1258.7 858.7 1255.5 858.7 1253.1 860.8 1248.9 857.1 1245.7 857.1 1243.3 859.3 1239.2 855.6 1236.0 855.6 1233.5 857.8 1229.4 854.2 1226.2 854.2 1223.7 856.3 1219.6 852.7 1216.4 852.7 1215.0 854.0 1212.6 851.9 1209.4 851.9 1207.9 853.1 1205.6 851.0 1202.4 851.0 1200.9 852.3 1198.5 850.2 1195.3 850.2 1193.9 851.5 1191.5 849.4 1188.3 849.4 1186.9 850.6 1184.5 848.5 1181.3 848.5 1180.3 849.4 1177.6 847.0 1174.4 847.0 1173.5 847.8 1170.7 845.4 1167.5 845.4 1166.6 846.2 1163.8 843.8 1160.6 843.8 1159.6 844.8 1156.9 842.4 1153.7 842.4 1152.7 843.3 1150.0 841.0 1146.8 841.0 1145.4 842.2 1143.0 840.0 1139.8 840.0 1138.2 841.4 1136.0 839.4 1132.8 839.4 1131.2 840.8 1128.9 838.8 1125.7 838.8 1124.1 840.2 1121.9 838.2 1118.7 838.2 1117.1 839.6 1114.8 837.6 1111.6 837.6 1110.0 839.0 1107.8 837.0 1104.6 837.0 1102.9 838.5 1100.7 836.6 1097.5 836.6 1095.9 838.1 1093.7 836.1 1090.5 836.1 1088.8 837.6 1086.6 835.7 1083.4 835.7 1081.8 837.2 1079.6 835.2 1076.4 835.2 1074.6 836.8 1072.5 834.9 1069.3 834.9 1067.4 836.6 1065.4 835.0 1062.2 835.0 1060.3 836.7 1058.4 835.0 1055.2 835.0 1053.2 836.7 1051.3 835.1 1048.1 835.1 1046.2 836.8 1044.2 835.1 1041.0 835.1 1039.1 836.8 1037.2 835.2 1034.0 835.2 1032.0 836.9 1030.1 835.2 1026.9 835.2 1024.9 836.9 1023.0 835.3 1019.8 835.3 1017.9 837.0 1016.0 835.3 1012.8 835.3 1010.8 837.0 1008.9 835.3 1005.7 835.3 1003.7 837.1 1001.8 835.4 998.6 835.4 997.0 836.9 994.8 835.0 991.6 835.0 989.9 836.4 987.7 834.5 984.5 834.5 982.9 836.0 980.7 834.1 977.5 834.1 975.8 835.6 973.6 833.6 970.4 833.6 968.7 835.1 966.6 833.2 963.4 833.2 961.7 834.7 959.5 832.7 956.3 832.7 954.7 834.2 952.5 832.3 949.3 832.3 948.1 833.3 945.5 831.1 942.3 831.1 941.1 832.1 938.5 829.8 935.3 829.8 934.1 830.9 931.6 828.6 928.4 828.6 927.2 829.7 924.6 827.4 921.4 827.4 920.2 828.5 917.7 826.2 914.5 826.2 913.2 827.3 910.7 825.1 907.5 825.1 906.2 826.3 903.7 824.1 900.5 824.1 899.2 825.2 896.7 823.1 893.5 823.1 892.2 824.2 889.7 822.0 886.5 822.0 885.2 823.2 882.7 821.0 879.5 821.0 878.2 822.2 875.7 820.0 874.0 820.0 872.9 819.0 871.2 819.0 870.1 818.0 868.4 818.0 867.3 816.9 865.6 816.9 864.4 815.9 862.8 815.9 861.6 814.9 860.0 814.9 858.8 813.9 856.8 813.9 856.0 813.1 825.8 813.0 822.8 813.3 822.2 813.8 819.9 813.8 819.3 814.4 817.0 814.4 816.3 814.9 814.0 814.9 813.4 815.5 811.1 815.5 810.4 816.0 808.1 816.0 807.5 816.6 805.2 816.6 804.6 817.2 802.2 817.2 801.6 817.7 799.3 817.7 798.2 818.7 796.5 818.7 775.1 836.7 761.2 837.8 760.2 838.7 758.3 838.7 757.3 839.7 755.5 839.7 754.5 840.6 752.7 840.6 751.6 841.5 749.8 841.5 748.8 842.4 747.0 842.4 745.2 843.9 744.4 843.9 722.7 859.9 695.0 882.8 674.7 900.6 648.6 925.4 635.4 937.1 629.1 941.8 627.6 941.8 626.3 942.9 624.8 942.9 623.6 944.0 622.0 944.0 620.2 945.7 619.7 945.7 601.7 961.6 601.7 962.5 600.0 964.1 600.0 965.0 598.3 966.5 598.3 967.4 596.5 969.0 596.5 969.9 594.8 971.4 594.8 972.6 593.3 974.0 593.3 975.3 591.8 976.6 591.8 977.9 590.3 979.2 590.3 980.5 588.8 981.8 588.8 983.1 587.4 984.4 587.4 985.7 585.9 987.0 585.9 988.3 584.4 989.6 584.4 990.8 582.9 992.2 582.9 993.4 581.3 994.7 581.3 995.9 579.8 997.3 579.8 998.5 578.2 999.9 578.2 1001.1 576.7 1002.4 576.7 1003.6 575.2 1005.0 575.2 1006.2 573.6 1007.6 573.6 1008.8 572.1 1010.1 572.1 1011.3 570.5 1012.7 570.5 1013.9 569.0 1015.3 569.0 1016.5 567.5 1017.8 567.5 1019.2 566.0 1020.4 566.0 1022.0 564.7 1023.2 564.7 1024.7 563.4 1025.9 563.4 1027.4 562.2 1028.6 562.2 1030.1 560.9 1031.3 560.9 1032.9 559.6 1034.0 559.6 1035.6 558.3 1036.7 558.3 1038.3 557.0 1039.4 557.0 1041.0 555.8 1042.1 555.8 1043.7 554.5 1044.8 554.5 1046.4 553.2 1047.5 553.2 1049.1 551.9 1050.2 551.9 1051.8 550.6 1052.9 550.6 1054.5 549.4 1055.6 549.4 1057.2 548.1 1058.3 548.1 1059.7 546.7 1061.0 546.7 1062.1 545.1 1063.5 545.1 1064.7 543.5 1066.1 543.5 1067.2 541.9 1068.6 541.9 1069.7 540.3 1071.1 540.3 1072.3 538.7 1073.7 538.7 1074.8 537.1 1076.2 537.1 1077.3 535.5 1078.7 535.5 1079.9 534.0 1081.3 534.0 1082.4 532.4 1083.8 532.4 1084.9 530.8 1086.4 530.8 1087.5 529.2 1088.9 529.2 1090.0 527.6 1091.4 527.6 1092.6 526.0 1094.0 526.0 1095.1 524.4 1096.5 524.4 1097.6 522.8 1099.0 522.8 1100.2 521.2 1101.6 521.2 1102.6 519.6 1104.1 519.6 1105.0 517.9 1106.5 517.9 1107.5 516.2 1109.0 516.2 1110.0 514.5 1111.5 514.5 1112.4 512.8 1113.9 512.8 1114.9 511.1 1116.4 511.1 1117.3 509.3 1118.8 509.3 1119.8 507.6 1121.3 507.6 1122.3 505.9 1123.8 505.9 1124.7 504.2 1126.2 504.2 1127.2 502.5 1128.7 502.5 1129.6 500.8 1131.1 500.8 1132.1 499.1 1133.6 499.1 1134.6 497.4 1136.1 497.4 1137.0 495.7 1138.5 495.7 1139.5 494.0 1141.0 494.0 1141.9 492.3 1143.4 492.3 1144.4 490.6 1145.9 490.6 1146.9 488.9 1148.4 488.9 1149.3 487.2 1150.8 487.2 1151.8 485.5 1153.3 485.5 1154.2 483.7 1155.7 483.7 1156.7 482.0 1158.2 482.0 1159.0 478.3 1162.9 478.3 1163.4 476.3 1165.1 476.3 1165.7 474.4 1167.4 474.4 1167.9 472.4 1169.7 472.4 1170.2 470.5 1171.9 470.5 1172.5 468.5 1174.2 468.5 1174.7 466.5 1176.5 466.5 1177.0 464.6 1178.7 464.6 1179.3 462.6 1181.0 462.6 1181.5 460.7 1183.3 460.7 1183.8 458.7 1185.5Z"/>
</g>
<text x="0" y="0" transform="translate(288 1237.0) scale(1.093 1)" text-anchor="end" font-family='"Liberation Serif", "DejaVu Serif", serif' font-size="64">0</text>
<text x="0" y="0" transform="translate(288 1042.0) scale(1.093 1)" text-anchor="end" font-family='"Liberation Serif", "DejaVu Serif", serif' font-size="64">2,000</text>
<text x="0" y="0" transform="translate(288 847.0) scale(1.093 1)" text-anchor="end" font-family='"Liberation Serif", "DejaVu Serif", serif' font-size="64">4,000</text>
<text x="0" y="0" transform="translate(288 652.0) scale(1.093 1)" text-anchor="end" font-family='"Liberation Serif", "DejaVu Serif", serif' font-size="64">6,000</text>
<text x="0" y="0" transform="translate(288 457.0) scale(1.093 1)" text-anchor="end" font-family='"Liberation Serif", "DejaVu Serif", serif' font-size="64">8,000</text>
<text x="0" y="0" transform="translate(288 262.0) scale(1.093 1)" text-anchor="end" font-family='"Liberation Serif", "DejaVu Serif", serif' font-size="64">10,000</text>
<text x="0" y="0" transform="translate(288 67.0) scale(1.093 1)" text-anchor="end" font-family='"Liberation Serif", "DejaVu Serif", serif' font-size="64">12,000</text>
<text x="327.0" y="1300.5" text-anchor="middle" font-family='"Liberation Serif", "DejaVu Serif", serif' font-size="53" xml:space="preserve">0. 0</text>
<text x="577.0" y="1300.5" text-anchor="middle" font-family='"Liberation Serif", "DejaVu Serif", serif' font-size="53" xml:space="preserve">0. 2</text>
<text x="827.0" y="1300.5" text-anchor="middle" font-family='"Liberation Serif", "DejaVu Serif", serif' font-size="53" xml:space="preserve">0. 4</text>
<text x="1077.0" y="1300.5" text-anchor="middle" font-family='"Liberation Serif", "DejaVu Serif", serif' font-size="53" xml:space="preserve">0. 6</text>
<text x="1327.0" y="1300.5" text-anchor="middle" font-family='"Liberation Serif", "DejaVu Serif", serif' font-size="53" xml:space="preserve">0. 8</text>
<text x="1577.0" y="1300.5" text-anchor="middle" font-family='"Liberation Serif", "DejaVu Serif", serif' font-size="53" xml:space="preserve">1. 0</text>
<text x="1827.0" y="1300.5" text-anchor="middle" font-family='"Liberation Serif", "DejaVu Serif", serif' font-size="53" xml:space="preserve">1. 2</text>
<rect x="379.5" y="75.5" width="394" height="376" fill="none" stroke="#000" stroke-width="3"/>
<rect x="447" y="103" width="30" height="26" fill="#737373"/>
<ellipse cx="461.5" cy="190" rx="16.75" ry="15.4" fill="#fc3b3b"/>
<path d="M461.5 243.5 L481.4 275 L441.7 275Z" fill="#006ce2"/>
<path d="M441.7 327 L481.4 327 L461.5 358Z" fill="#00ad63"/>
<path d="M459.5 393 L463.1 393 L482 409.8 L482 413.2 L463.1 430 L459.5 430 L440.6 413.2 L440.6 409.8Z" fill="#c278e0"/>
<text transform="translate(550.3 136.4) scale(1.093 1)" font-family='"Liberation Serif", "DejaVu Serif", serif' font-size="52.7">C-RPC-1</text>
<text transform="translate(550.3 209.6) scale(1.093 1)" font-family='"Liberation Serif", "DejaVu Serif", serif' font-size="52.7">C-RPC-2</text>
<text transform="translate(550.3 283) scale(1.093 1)" font-family='"Liberation Serif", "DejaVu Serif", serif' font-size="52.7">C-RPC-3</text>
<text transform="translate(550.3 357.3) scale(1.093 1)" font-family='"Liberation Serif", "DejaVu Serif", serif' font-size="52.7">C-RPC-4</text>
<text transform="translate(550.3 430.5) scale(1.093 1)" font-family='"Liberation Serif", "DejaVu Serif", serif' font-size="52.7">C-RPC-5</text>
<text transform="translate(1645.2 140.2) scale(1.095 1)" font-family='"Liberation Serif", "DejaVu Serif", serif' font-size="52.7">C-RPC-1</text>
<text transform="translate(1467.7 381.7) scale(1.095 1)" font-family='"Liberation Serif", "DejaVu Serif", serif' font-size="52.7">C-RPC-2</text>
<text transform="translate(1676.2 616) scale(1.095 1)" font-family='"Liberation Serif", "DejaVu Serif", serif' font-size="52.7">C-RPC-3</text>
<text transform="translate(1647.2 842.3) scale(1.095 1)" font-family='"Liberation Serif", "DejaVu Serif", serif' font-size="52.7">C-RPC-4</text>
<text transform="translate(1371.8 1016.4) scale(1.095 1)" font-family='"Liberation Serif", "DejaVu Serif", serif' font-size="52.7">C-RPC-5</text>
<line x1="1618.1" y1="168.8" x2="1655.2" y2="157.6" stroke="#000" stroke-width="2.6"/>
<path d="M1685.8 148.3 L1655.7 166.1 L1650.9 150.2Z" fill="#000"/>
<line x1="1327.3" y1="333.2" x2="1421.1" y2="343.8" stroke="#000" stroke-width="2.6"/>
<path d="M1452.9 347.4 L1418.2 351.8 L1420.0 335.3Z" fill="#000"/>
<line x1="1475.1" y1="541.1" x2="1643.8" y2="577.1" stroke="#000" stroke-width="2.6"/>
<path d="M1675.1 583.8 L1640.1 584.8 L1643.6 568.6Z" fill="#000"/>
<line x1="1573.5" y1="735.5" x2="1608.4" y2="779.1" stroke="#000" stroke-width="2.6"/>
<path d="M1628.4 804.1 L1600.7 782.7 L1613.6 772.4Z" fill="#000"/>
<line x1="1357.2" y1="925.8" x2="1406.7" y2="954.4" stroke="#000" stroke-width="2.6"/>
<path d="M1434.4 970.4 L1400.8 960.6 L1409.1 946.2Z" fill="#000"/>
<text transform="translate(69.8 704) rotate(-90) scale(1.1 1)" font-family='"Liberation Serif", "DejaVu Serif", serif' font-size="63.6">P</text>
<text transform="translate(88.5 665) rotate(-90)" font-family='"Liberation Serif", "DejaVu Serif", serif' font-size="46">t</text>
<text transform="translate(69.8 650.5) rotate(-90) scale(1.08 1)" font-family='"Liberation Serif", "DejaVu Serif", serif' font-size="62">(N)</text>
<text transform="translate(1007.5 1421) scale(1.15 1)" font-family='"Liberation Serif", "DejaVu Serif", serif' font-style="italic" font-size="62">w</text>
<text transform="translate(1058.5 1439) scale(1.21 1)" font-family='"Liberation Serif", "DejaVu Serif", serif' font-style="italic" font-size="42">m</text>
<text transform="translate(1095.5 1421)" font-family='"Liberation Serif", "DejaVu Serif", serif' font-size="62">(</text>
<text transform="translate(1116.5 1421.5) scale(1.255 1)" font-family='"Liberation Serif", "DejaVu Serif", serif' font-size="62">mm</text>
<text transform="translate(1237 1421)" font-family='"Liberation Serif", "DejaVu Serif", serif' font-size="62">)</text>
</svg></body></html>
